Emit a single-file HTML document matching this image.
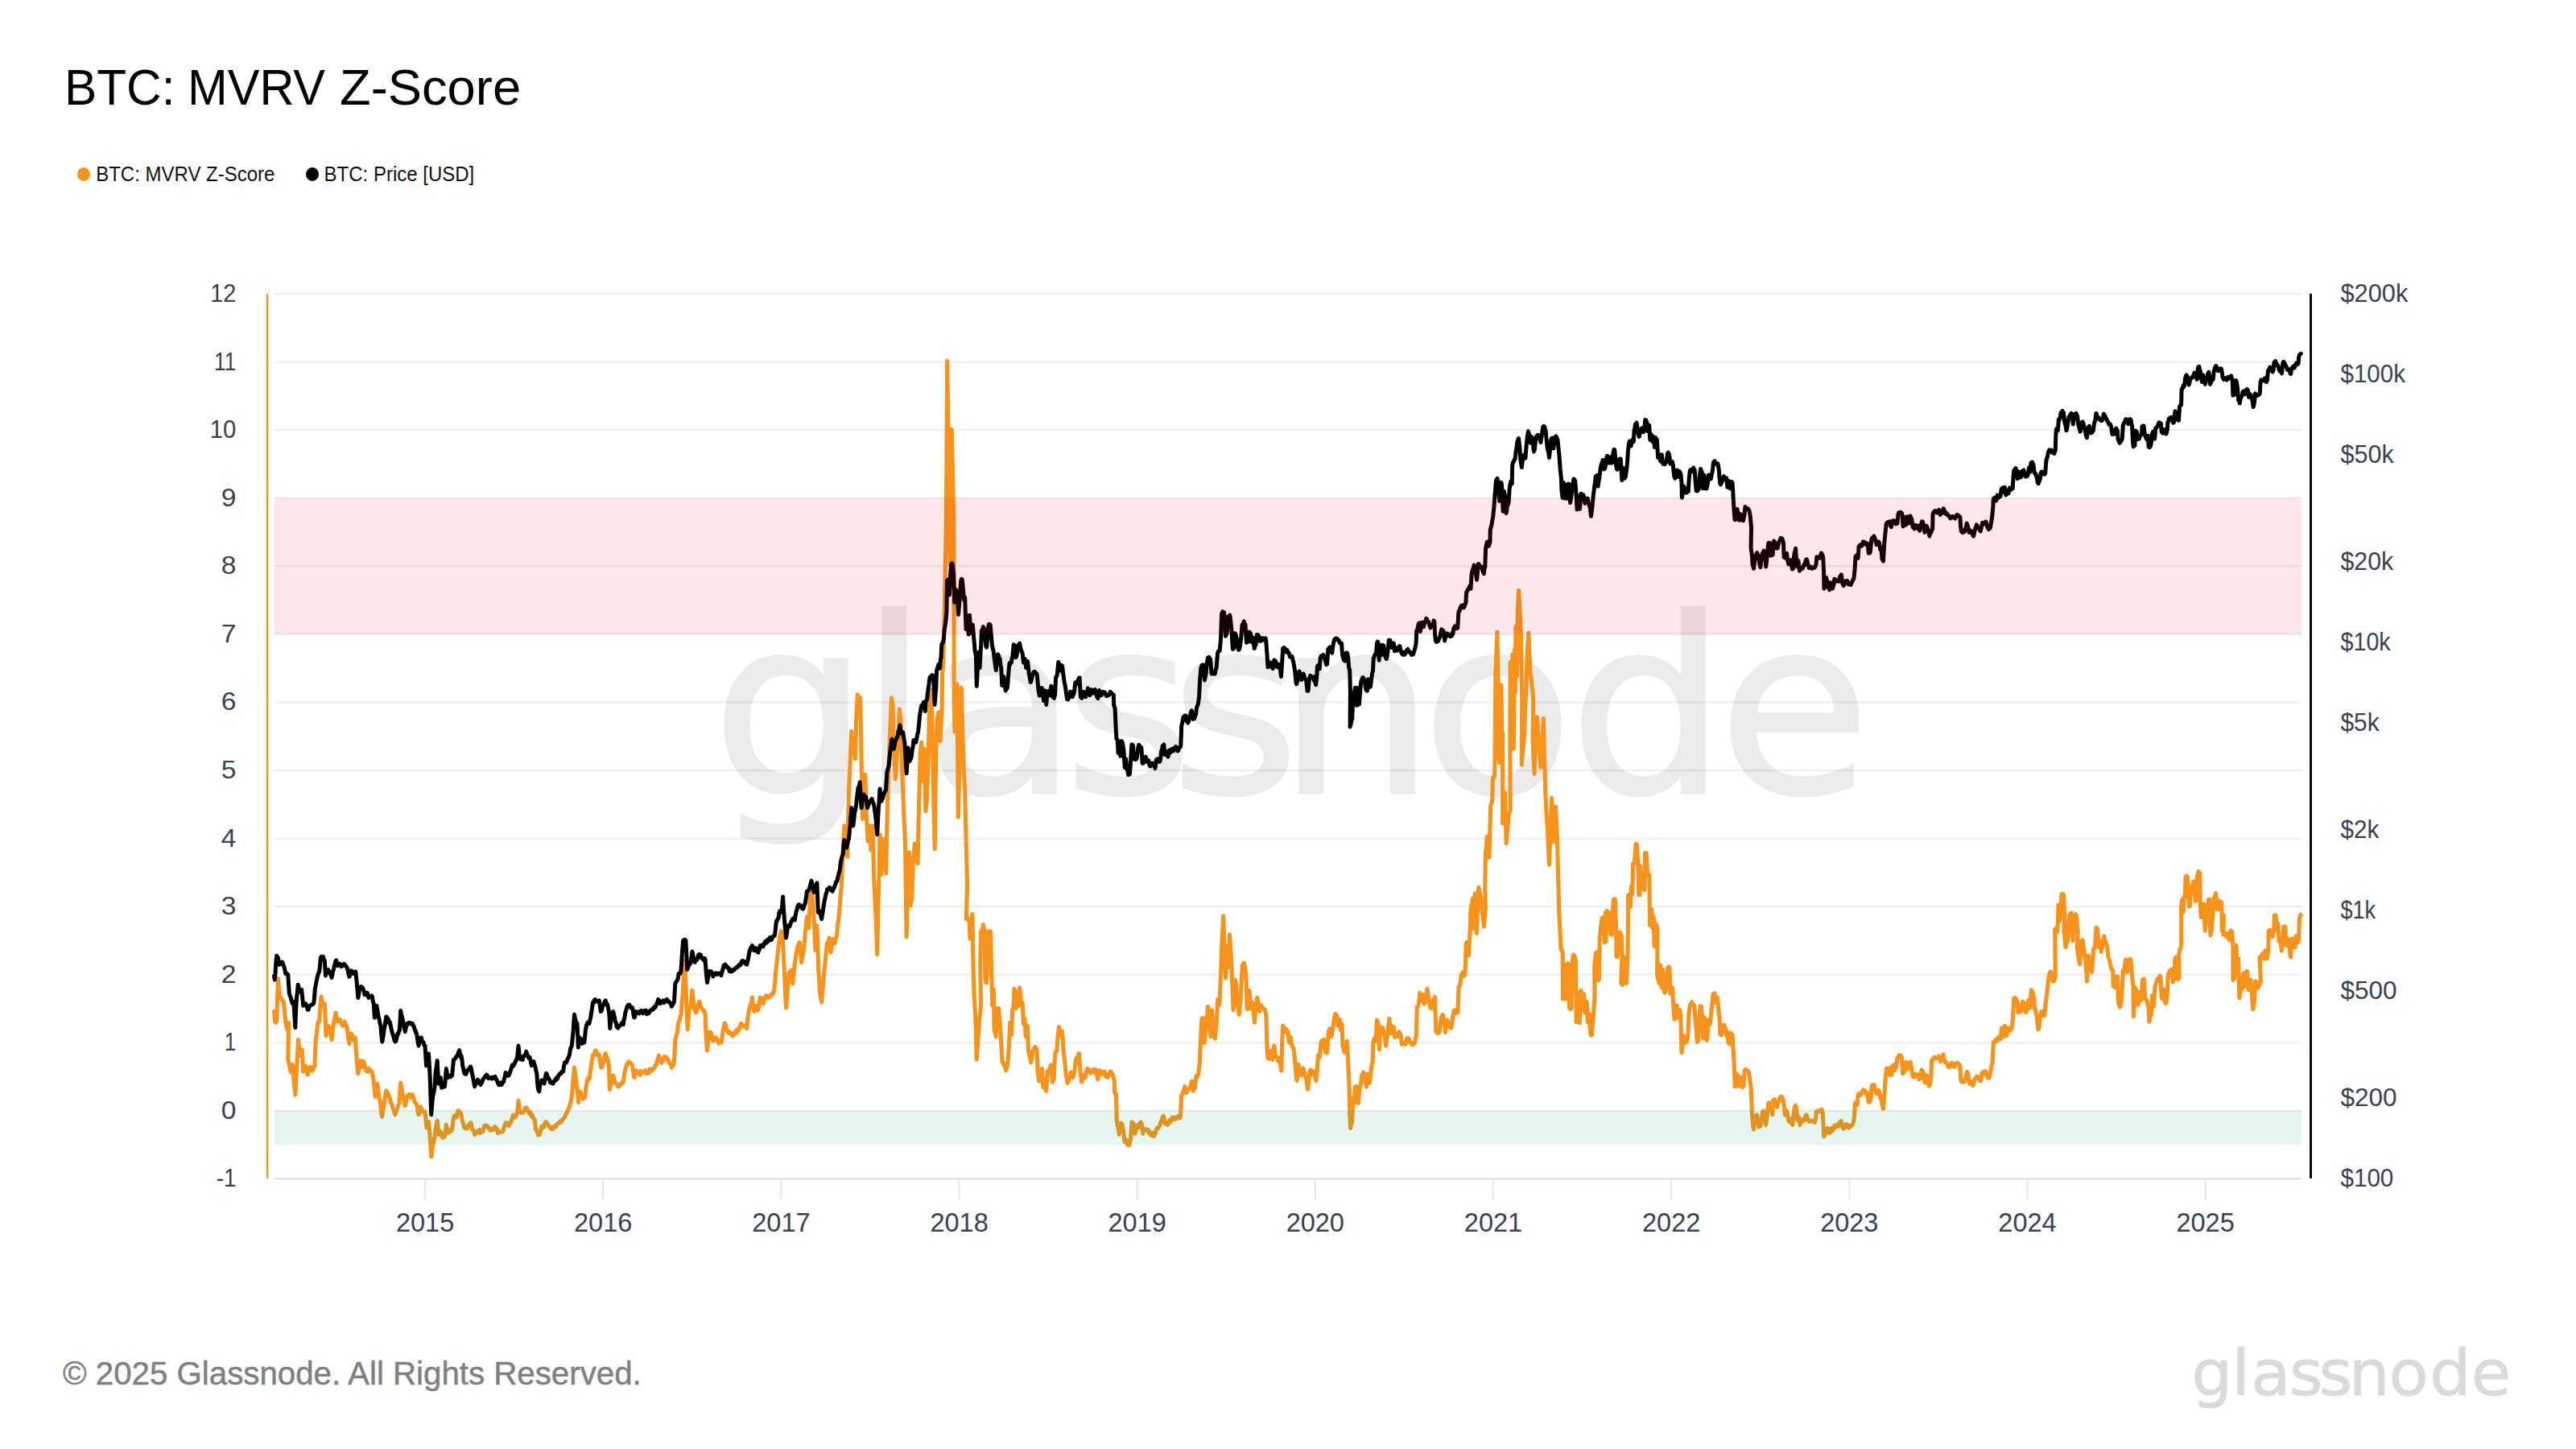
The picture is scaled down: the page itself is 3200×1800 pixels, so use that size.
<!DOCTYPE html>
<html><head><meta charset="utf-8"><title>BTC: MVRV Z-Score</title>
<style>
html,body{margin:0;padding:0;background:#fff;}
body{width:3200px;height:1800px;position:relative;overflow:hidden;font-family:"Liberation Sans",sans-serif;}
#title{position:absolute;left:80px;top:63.0px;width:700px;height:90px;font-size:62.8px;line-height:90px;color:#000;white-space:nowrap;transform-origin:0 50%;}
.leg{position:absolute;top:200.6px;transform:scaleY(1.06);transform-origin:0 50%;font-size:24px;line-height:32px;color:#111;white-space:nowrap;}
.dot{position:absolute;width:16.2px;height:17.2px;border-radius:50%;top:207.6px;}
#foot{position:absolute;left:78.0px;top:1682.7px;font-size:40px;line-height:46px;color:#808080;white-space:nowrap;transform:scale(1.0062,1);transform-origin:0 36.4px;-webkit-text-stroke:0.5px #808080;}
#logo{position:absolute;left:2722px;top:1650px;font-size:86.7px;line-height:100px;color:#dadada;white-space:nowrap;}
svg{position:absolute;left:0;top:0;}
svg text{font-family:"Liberation Sans",sans-serif;fill:#3a4150;}
#title span{position:absolute;top:0;transform-origin:0 50%;}
</style></head><body>
<div id="title"><span style="left:-0.1px;transform:scaleX(0.961)">BTC:</span> <span style="left:153.1px;transform:scaleX(0.949)">MVRV</span> <span style="left:342.4px;transform:scaleX(1.008)">Z-Score</span></div>
<div class="dot" style="left:95.8px;background:#f7931a"></div><div class="leg" style="left:119.2px">BTC: MVRV Z-Score</div>
<div class="dot" style="left:379.8px;background:#000"></div><div class="leg" style="left:402.6px">BTC: Price [USD]</div>
<svg width="3200" height="1800" viewBox="0 0 3200 1800">
<rect x="341" y="1378.6" width="2518" height="2.4" fill="#000" fill-opacity="0.062"/>
<rect x="341" y="1294.1" width="2518" height="2.4" fill="#000" fill-opacity="0.062"/>
<rect x="341" y="1209.5" width="2518" height="2.4" fill="#000" fill-opacity="0.062"/>
<rect x="341" y="1124.9" width="2518" height="2.4" fill="#000" fill-opacity="0.062"/>
<rect x="341" y="1040.4" width="2518" height="2.4" fill="#000" fill-opacity="0.062"/>
<rect x="341" y="955.8" width="2518" height="2.4" fill="#000" fill-opacity="0.062"/>
<rect x="341" y="871.2" width="2518" height="2.4" fill="#000" fill-opacity="0.062"/>
<rect x="341" y="786.6" width="2518" height="2.4" fill="#000" fill-opacity="0.062"/>
<rect x="341" y="702.1" width="2518" height="2.4" fill="#000" fill-opacity="0.062"/>
<rect x="341" y="617.5" width="2518" height="2.4" fill="#000" fill-opacity="0.062"/>
<rect x="341" y="532.9" width="2518" height="2.4" fill="#000" fill-opacity="0.062"/>
<rect x="341" y="448.4" width="2518" height="2.4" fill="#000" fill-opacity="0.062"/>
<rect x="341" y="363.8" width="2518" height="2.4" fill="#000" fill-opacity="0.062"/>
<text x="866.59 1046.56 1127.51 1295.26 1425.16 1555.54 1731.26 1910.70 2092.28" y="984.5" font-size="303" transform="scale(1.02 1)" style="font-family:'DejaVu Sans',sans-serif;fill:#000;stroke:#000;stroke-width:3;opacity:0.075">glassnode</text>
<rect x="341" y="1463.5" width="2518" height="1.8" fill="#d8d9db"/>
<rect x="527.1" y="1465.4" width="2" height="25" fill="#e6e7ea"/>
<text x="528.1" y="1530.3" text-anchor="middle" font-size="32.5">2015</text>
<rect x="748.2" y="1465.4" width="2" height="25" fill="#e6e7ea"/>
<text x="749.2" y="1530.3" text-anchor="middle" font-size="32.5">2016</text>
<rect x="969.4" y="1465.4" width="2" height="25" fill="#e6e7ea"/>
<text x="970.4" y="1530.3" text-anchor="middle" font-size="32.5">2017</text>
<rect x="1190.6" y="1465.4" width="2" height="25" fill="#e6e7ea"/>
<text x="1191.6" y="1530.3" text-anchor="middle" font-size="32.5">2018</text>
<rect x="1411.7" y="1465.4" width="2" height="25" fill="#e6e7ea"/>
<text x="1412.7" y="1530.3" text-anchor="middle" font-size="32.5">2019</text>
<rect x="1632.8" y="1465.4" width="2" height="25" fill="#e6e7ea"/>
<text x="1633.8" y="1530.3" text-anchor="middle" font-size="32.5">2020</text>
<rect x="1854.0" y="1465.4" width="2" height="25" fill="#e6e7ea"/>
<text x="1855.0" y="1530.3" text-anchor="middle" font-size="32.5">2021</text>
<rect x="2075.2" y="1465.4" width="2" height="25" fill="#e6e7ea"/>
<text x="2076.2" y="1530.3" text-anchor="middle" font-size="32.5">2022</text>
<rect x="2296.3" y="1465.4" width="2" height="25" fill="#e6e7ea"/>
<text x="2297.3" y="1530.3" text-anchor="middle" font-size="32.5">2023</text>
<rect x="2517.5" y="1465.4" width="2" height="25" fill="#e6e7ea"/>
<text x="2518.5" y="1530.3" text-anchor="middle" font-size="32.5">2024</text>
<rect x="2738.6" y="1465.4" width="2" height="25" fill="#e6e7ea"/>
<text x="2739.6" y="1530.3" text-anchor="middle" font-size="32.5">2025</text>
<rect x="330.9" y="364.8" width="2.3" height="1099.1" fill="#f7931a"/>
<rect x="2869.1" y="364.8" width="2.9" height="1099.1" fill="#000"/>
<text transform="translate(293.3 1474.4) scale(0.88 1)" text-anchor="end" font-size="31.5">-1</text>
<text transform="translate(293.5 1389.8) scale(1.065 1)" text-anchor="end" font-size="31.5">0</text>
<text transform="translate(293.2 1305.3) scale(0.83 1)" text-anchor="end" font-size="31.5">1</text>
<text transform="translate(293.5 1220.7) scale(1.065 1)" text-anchor="end" font-size="31.5">2</text>
<text transform="translate(293.5 1136.1) scale(1.065 1)" text-anchor="end" font-size="31.5">3</text>
<text transform="translate(293.5 1051.6) scale(1.065 1)" text-anchor="end" font-size="31.5">4</text>
<text transform="translate(293.5 967.0) scale(1.065 1)" text-anchor="end" font-size="31.5">5</text>
<text transform="translate(293.5 882.4) scale(1.065 1)" text-anchor="end" font-size="31.5">6</text>
<text transform="translate(293.5 797.8) scale(1.065 1)" text-anchor="end" font-size="31.5">7</text>
<text transform="translate(293.5 713.3) scale(1.065 1)" text-anchor="end" font-size="31.5">8</text>
<text transform="translate(293.5 628.7) scale(1.065 1)" text-anchor="end" font-size="31.5">9</text>
<text transform="translate(293.3 544.1) scale(0.93 1)" text-anchor="end" font-size="31.5">10</text>
<text transform="translate(293.2 459.6) scale(0.83 1)" text-anchor="end" font-size="31.5">11</text>
<text transform="translate(293.3 375.0) scale(0.914 1)" text-anchor="end" font-size="31.5">12</text>
<text transform="translate(2907.5 374.7) scale(0.977 1)" font-size="31.5">$200k</text>
<text transform="translate(2907.5 475.0) scale(0.937 1)" font-size="31.5">$100k</text>
<text transform="translate(2907.5 575.2) scale(0.97 1)" font-size="31.5">$50k</text>
<text transform="translate(2907.5 707.8) scale(0.962 1)" font-size="31.5">$20k</text>
<text transform="translate(2907.5 808.0) scale(0.91 1)" font-size="31.5">$10k</text>
<text transform="translate(2907.5 908.3) scale(0.947 1)" font-size="31.5">$5k</text>
<text transform="translate(2907.5 1040.9) scale(0.94 1)" font-size="31.5">$2k</text>
<text transform="translate(2907.5 1141.1) scale(0.86 1)" font-size="31.5">$1k</text>
<text transform="translate(2907.5 1241.4) scale(1.0 1)" font-size="31.5">$500</text>
<text transform="translate(2907.5 1373.9) scale(1.0 1)" font-size="31.5">$200</text>
<text transform="translate(2907.5 1474.2) scale(0.94 1)" font-size="31.5">$100</text>
<path d="M340.4,1254.3 L341.7,1269.2 L342.7,1270.2 L343.7,1268.0 L344.5,1243.7 L345.4,1215.8 L346.4,1227.7 L347.4,1239.4 L348.2,1239.2 L349.0,1239.6 L349.9,1241.9 L350.7,1243.1 L351.5,1243.0 L352.4,1245.6 L353.2,1251.6 L354.0,1261.6 L354.8,1269.2 L355.8,1274.3 L356.8,1279.1 L357.7,1275.5 L358.6,1270.4 L357.8,1316.4 L358.6,1318.9 L359.4,1323.9 L360.2,1327.5 L361.1,1331.3 L361.9,1326.4 L362.7,1326.2 L363.5,1322.6 L364.3,1332.3 L365.2,1344.3 L366.0,1350.8 L366.8,1359.9 L367.6,1344.2 L368.5,1328.8 L369.5,1311.8 L370.5,1291.6 L371.6,1301.7 L372.7,1311.4 L373.6,1310.1 L374.4,1306.0 L375.2,1304.0 L376.7,1331.3 L377.7,1329.1 L378.7,1327.7 L379.7,1323.9 L380.5,1328.5 L381.3,1331.5 L382.2,1335.0 L383.2,1330.3 L384.2,1329.0 L385.2,1325.1 L386.0,1326.8 L386.8,1329.3 L387.6,1330.1 L388.4,1328.8 L389.3,1328.4 L390.1,1325.3 L390.9,1323.9 L392.1,1294.0 L392.9,1286.8 L393.8,1280.0 L394.6,1271.7 L395.6,1269.0 L396.6,1269.2 L397.4,1258.3 L398.2,1247.8 L399.1,1238.1 L400.1,1244.4 L401.1,1245.5 L402.0,1249.3 L403.3,1246.8 L404.2,1267.6 L405.0,1286.6 L405.9,1283.7 L406.7,1278.8 L407.5,1275.4 L408.3,1274.6 L409.2,1279.1 L410.0,1279.1 L411.0,1284.8 L412.0,1291.6 L412.8,1285.9 L413.6,1276.6 L414.5,1271.7 L415.3,1266.6 L416.1,1264.2 L417.0,1258.0 L417.8,1263.6 L418.6,1263.8 L419.4,1269.2 L420.4,1266.6 L421.4,1267.5 L422.4,1266.7 L423.2,1269.5 L424.0,1270.6 L424.8,1272.7 L425.7,1274.2 L426.5,1271.2 L427.3,1271.6 L428.1,1269.2 L429.0,1272.7 L429.8,1272.8 L430.6,1275.4 L431.4,1278.8 L432.2,1285.0 L433.0,1292.2 L433.9,1296.5 L434.7,1290.1 L435.5,1288.1 L436.3,1284.1 L437.2,1285.3 L438.0,1288.9 L438.8,1291.6 L439.6,1290.4 L440.5,1289.9 L441.3,1289.1 L442.2,1303.4 L443.0,1313.9 L443.9,1324.4 L444.8,1333.8 L445.6,1330.1 L446.4,1322.8 L447.3,1317.6 L448.1,1319.5 L448.9,1323.1 L449.8,1325.1 L450.7,1318.3 L451.7,1318.9 L452.6,1322.1 L453.4,1325.7 L454.2,1328.8 L455.1,1328.0 L455.9,1331.1 L456.7,1331.3 L457.5,1330.2 L458.4,1327.3 L459.2,1330.1 L460.2,1330.6 L461.2,1330.4 L462.2,1332.5 L463.2,1337.5 L464.2,1343.7 L465.2,1352.8 L466.1,1362.4 L467.0,1358.6 L467.8,1351.7 L468.6,1346.2 L469.5,1352.4 L470.3,1359.1 L471.1,1364.8 L472.0,1366.8 L472.9,1373.5 L473.7,1382.0 L474.6,1387.2 L475.4,1380.8 L476.3,1377.8 L477.1,1372.3 L478.0,1365.0 L478.9,1359.4 L479.8,1354.9 L480.8,1356.0 L481.8,1360.7 L482.8,1359.9 L483.6,1363.7 L484.5,1364.9 L485.3,1368.6 L486.1,1370.7 L486.9,1372.0 L487.8,1376.0 L488.6,1378.2 L489.4,1379.6 L490.2,1383.5 L491.0,1384.7 L492.0,1380.1 L493.0,1378.5 L494.0,1376.0 L495.0,1372.4 L496.0,1371.1 L496.8,1357.1 L497.7,1345.0 L498.5,1350.4 L499.4,1354.2 L500.2,1358.6 L501.2,1364.4 L502.2,1370.1 L503.2,1373.5 L504.2,1370.1 L505.2,1363.6 L506.1,1361.2 L507.0,1363.1 L508.0,1359.4 L508.9,1361.1 L509.8,1360.7 L510.7,1363.0 L511.7,1359.9 L512.6,1359.9 L513.4,1362.3 L514.3,1365.9 L515.1,1368.6 L515.9,1369.8 L516.7,1371.1 L517.6,1372.3 L518.4,1375.5 L519.2,1382.0 L520.1,1384.7 L520.9,1382.6 L521.7,1377.8 L522.5,1374.8 L523.4,1376.8 L524.2,1379.0 L525.0,1379.8 L526.0,1381.5 L527.0,1381.1 L528.0,1381.0 L529.0,1391.8 L530.0,1400.9 L530.8,1398.0 L531.7,1394.5 L532.5,1393.4 L533.4,1402.7 L534.2,1413.3 L535.7,1436.9 L536.6,1431.4 L537.5,1423.2 L538.3,1421.2 L539.1,1416.8 L539.9,1413.3 L541.2,1403.4 L542.2,1397.0 L543.2,1392.2 L544.0,1400.6 L544.9,1408.3 L545.7,1409.7 L546.6,1408.4 L547.4,1405.8 L548.2,1407.4 L549.0,1410.8 L549.9,1413.3 L550.7,1411.0 L551.5,1411.0 L552.4,1412.0 L553.4,1404.8 L554.3,1397.1 L555.2,1402.1 L556.1,1407.1 L556.9,1407.1 L557.7,1406.2 L558.6,1403.4 L559.6,1404.4 L560.6,1405.1 L561.6,1403.4 L562.5,1395.2 L563.5,1388.4 L564.4,1386.2 L565.2,1387.4 L566.0,1386.0 L567.0,1387.9 L567.9,1383.3 L568.8,1379.8 L569.8,1379.8 L570.6,1381.3 L571.4,1384.1 L572.2,1382.1 L573.0,1384.7 L573.9,1390.1 L574.7,1393.4 L575.5,1395.1 L576.4,1400.0 L577.2,1400.9 L578.0,1401.5 L578.9,1400.4 L579.7,1399.6 L580.5,1401.8 L581.3,1398.3 L582.2,1398.4 L583.0,1396.3 L583.8,1398.3 L584.7,1394.7 L585.5,1396.0 L586.3,1402.5 L587.1,1402.1 L588.0,1404.5 L588.8,1405.7 L589.6,1409.6 L590.6,1408.3 L591.5,1407.3 L592.4,1406.1 L593.4,1404.6 L594.3,1405.0 L595.2,1407.2 L596.1,1403.4 L597.1,1407.1 L598.0,1405.1 L598.9,1404.3 L599.9,1405.7 L600.8,1402.1 L601.7,1398.6 L602.7,1399.8 L603.6,1397.8 L604.5,1398.4 L605.5,1398.5 L606.4,1401.1 L607.3,1401.7 L608.3,1402.1 L609.2,1404.3 L610.1,1402.0 L611.1,1403.4 L612.0,1403.4 L612.8,1403.6 L613.6,1402.0 L614.5,1399.6 L615.3,1400.0 L616.1,1402.8 L617.0,1402.1 L617.8,1402.6 L618.6,1407.8 L619.4,1407.1 L620.4,1407.0 L621.3,1406.3 L622.2,1406.5 L623.2,1405.8 L624.0,1405.7 L624.8,1405.6 L625.7,1402.1 L626.5,1399.4 L627.3,1396.7 L628.1,1394.7 L629.1,1396.4 L630.0,1395.4 L630.9,1395.2 L631.9,1398.4 L632.8,1397.6 L633.7,1394.2 L634.7,1394.3 L635.6,1390.9 L636.5,1388.7 L637.5,1385.3 L638.4,1388.5 L639.3,1387.2 L640.1,1386.2 L640.9,1386.8 L641.7,1384.2 L642.5,1382.2 L644.0,1367.3 L645.5,1381.0 L646.5,1381.7 L647.4,1382.4 L648.3,1381.4 L649.3,1382.2 L650.2,1381.0 L651.2,1379.5 L652.0,1376.5 L652.8,1377.7 L653.7,1375.8 L654.5,1376.4 L655.3,1378.5 L656.1,1380.7 L657.0,1382.3 L657.8,1383.2 L658.6,1381.3 L659.4,1383.2 L660.2,1387.1 L661.0,1384.9 L661.9,1387.0 L662.7,1389.3 L663.5,1390.7 L664.3,1390.7 L665.3,1401.9 L666.2,1403.8 L667.0,1405.4 L667.8,1406.8 L668.7,1410.0 L669.5,1409.6 L670.3,1409.3 L671.3,1406.2 L672.3,1401.9 L673.1,1399.1 L674.0,1400.1 L674.8,1400.6 L675.6,1400.1 L676.4,1396.7 L677.3,1394.4 L678.1,1393.6 L678.9,1394.4 L679.8,1395.7 L680.7,1396.5 L681.6,1399.0 L682.5,1399.9 L683.5,1400.6 L684.4,1402.2 L685.3,1400.2 L686.3,1402.8 L687.2,1401.9 L688.0,1400.0 L688.9,1399.0 L689.7,1398.1 L690.6,1399.8 L691.6,1397.0 L692.5,1396.1 L693.4,1395.7 L694.3,1394.4 L695.3,1393.3 L696.2,1394.9 L697.1,1391.9 L698.1,1392.8 L699.0,1391.0 L699.9,1389.4 L700.9,1388.2 L701.7,1387.9 L702.5,1384.8 L703.4,1383.2 L704.2,1382.2 L705.0,1380.4 L705.8,1378.3 L706.7,1375.9 L707.5,1375.4 L708.3,1370.8 L709.2,1368.9 L710.0,1364.2 L710.8,1358.4 L711.7,1344.7 L712.5,1336.0 L713.5,1326.1 L714.4,1334.7 L715.3,1338.5 L716.1,1346.9 L717.0,1353.4 L718.5,1369.6 L719.6,1362.1 L720.7,1355.9 L721.6,1358.4 L722.4,1362.3 L723.2,1363.4 L724.0,1364.9 L724.8,1364.5 L725.7,1363.5 L726.5,1363.4 L727.3,1355.9 L728.2,1348.4 L729.1,1345.2 L729.9,1339.8 L730.8,1339.6 L731.6,1338.6 L732.4,1339.8 L733.4,1330.9 L734.4,1323.6 L735.4,1317.2 L736.4,1311.2 L737.4,1309.5 L738.4,1310.0 L739.4,1305.0 L740.4,1305.3 L741.4,1309.7 L742.4,1311.2 L743.4,1310.4 L744.3,1309.9 L745.2,1315.7 L746.0,1322.5 L746.8,1326.1 L747.7,1326.0 L748.5,1322.6 L749.3,1321.1 L750.3,1316.3 L751.3,1311.1 L752.3,1308.7 L753.1,1311.1 L754.0,1315.3 L754.8,1316.1 L756.3,1323.6 L757.5,1353.4 L758.4,1348.7 L759.3,1344.7 L760.1,1342.7 L760.9,1339.8 L761.7,1336.0 L762.6,1339.4 L763.4,1343.2 L764.2,1344.7 L765.2,1346.2 L766.2,1347.0 L767.2,1349.7 L768.0,1347.5 L768.8,1349.7 L769.6,1347.4 L770.4,1347.2 L771.2,1346.2 L772.0,1347.0 L772.9,1344.3 L773.7,1344.7 L774.5,1342.5 L775.3,1336.5 L776.1,1331.1 L777.1,1327.1 L778.1,1323.6 L779.1,1321.1 L780.0,1322.1 L780.8,1318.8 L781.6,1319.9 L782.5,1319.7 L783.5,1321.1 L784.4,1322.0 L785.3,1322.4 L786.2,1327.8 L787.0,1333.6 L787.8,1338.5 L788.7,1335.1 L789.5,1332.6 L790.3,1329.8 L791.2,1332.4 L792.2,1332.5 L793.1,1332.0 L794.0,1333.5 L795.0,1335.5 L795.9,1330.3 L796.8,1332.7 L797.8,1332.3 L798.7,1332.5 L799.6,1332.3 L800.6,1330.6 L801.5,1329.8 L802.3,1330.6 L803.1,1333.1 L804.0,1333.5 L804.9,1332.7 L805.8,1332.9 L806.8,1328.0 L807.7,1331.1 L808.6,1330.6 L809.6,1328.2 L810.5,1329.5 L811.4,1327.3 L812.4,1327.1 L813.3,1325.8 L814.2,1323.1 L815.2,1322.4 L816.0,1320.1 L816.8,1316.3 L817.6,1314.3 L818.4,1311.2 L819.2,1313.5 L820.0,1315.0 L820.9,1318.6 L821.9,1320.4 L822.9,1317.9 L823.9,1316.1 L824.8,1312.9 L825.7,1316.1 L826.6,1312.5 L827.6,1313.7 L828.4,1314.6 L829.2,1315.4 L830.0,1316.7 L830.8,1318.6 L831.7,1320.8 L832.5,1321.9 L833.4,1322.3 L834.3,1326.1 L835.1,1324.2 L835.9,1322.8 L836.7,1322.8 L837.5,1318.6 L838.8,1291.3 L839.6,1288.3 L840.4,1284.8 L841.2,1283.9 L842.5,1271.4 L843.4,1268.4 L844.2,1266.5 L845.2,1263.6 L846.2,1259.0 L847.2,1245.4 L848.2,1234.2 L849.0,1219.6 L849.9,1207.6 L850.7,1193.2 L851.6,1213.7 L852.4,1234.2 L853.3,1256.8 L854.2,1278.9 L855.2,1265.6 L856.1,1254.0 L857.1,1251.7 L858.1,1251.6 L859.0,1240.6 L859.9,1230.4 L860.7,1237.7 L861.5,1244.9 L862.4,1252.8 L863.2,1255.0 L864.0,1256.8 L864.8,1257.8 L865.8,1255.1 L866.7,1251.6 L867.6,1246.4 L868.6,1244.1 L869.4,1245.1 L870.2,1250.1 L871.1,1251.6 L871.9,1252.8 L872.7,1254.2 L873.5,1255.3 L874.4,1255.0 L875.2,1257.5 L876.0,1259.0 L877.3,1288.8 L878.5,1305.0 L879.5,1293.6 L880.5,1283.9 L881.3,1282.3 L882.2,1282.2 L883.0,1282.6 L883.8,1284.0 L884.6,1289.3 L885.5,1292.5 L886.5,1292.8 L887.5,1289.1 L888.4,1288.8 L889.3,1290.2 L890.1,1289.9 L890.9,1292.5 L891.8,1293.8 L892.6,1295.8 L893.4,1293.8 L894.2,1292.6 L895.1,1294.3 L895.9,1295.0 L896.7,1291.5 L897.6,1284.7 L898.4,1278.9 L899.2,1276.5 L900.0,1271.3 L900.9,1271.4 L901.7,1274.1 L902.5,1278.4 L903.4,1280.1 L904.3,1282.9 L905.2,1282.8 L906.1,1282.2 L907.1,1283.9 L907.9,1284.0 L908.7,1283.5 L909.6,1286.8 L910.5,1284.4 L911.4,1286.2 L912.4,1283.5 L913.3,1282.6 L914.2,1280.2 L915.2,1283.1 L916.1,1278.6 L917.0,1280.1 L918.0,1279.6 L918.9,1275.4 L919.8,1274.0 L920.7,1271.4 L921.7,1272.9 L922.6,1273.0 L923.5,1274.9 L924.5,1273.9 L925.3,1274.9 L926.1,1275.4 L926.9,1275.8 L927.7,1277.6 L928.6,1267.7 L929.4,1261.5 L930.3,1255.6 L931.2,1251.6 L932.0,1249.7 L932.8,1246.4 L933.6,1244.0 L934.4,1239.1 L935.2,1248.5 L936.1,1251.7 L936.9,1256.5 L937.7,1254.7 L938.6,1249.8 L939.4,1249.1 L940.2,1250.4 L941.0,1255.2 L941.9,1254.0 L942.7,1249.8 L943.5,1243.9 L944.3,1239.1 L945.3,1241.4 L946.2,1240.4 L947.1,1243.6 L948.1,1246.6 L949.0,1242.4 L949.9,1238.8 L950.9,1240.1 L951.8,1236.6 L952.7,1238.5 L953.7,1237.7 L954.6,1239.0 L955.5,1239.1 L956.5,1236.6 L957.4,1237.2 L958.3,1236.4 L959.3,1234.2 L959.4,1234.1 L960.5,1234.0 L961.6,1230.0 L962.7,1219.6 L963.8,1205.1 L964.9,1196.1 L966.0,1185.8 L967.1,1176.0 L968.2,1166.5 L969.3,1160.6 L970.4,1156.8 L971.5,1162.2 L972.6,1169.2 L973.7,1193.5 L974.8,1216.2 L975.7,1234.8 L976.5,1252.0 L977.5,1239.6 L978.4,1227.2 L979.4,1219.7 L980.4,1207.9 L981.5,1207.3 L982.6,1205.1 L983.7,1213.4 L984.8,1221.7 L985.9,1210.4 L987.0,1199.6 L988.1,1192.1 L989.2,1184.4 L990.3,1178.3 L991.4,1174.7 L992.4,1171.4 L993.3,1170.6 L994.5,1183.5 L995.6,1195.5 L996.5,1189.6 L997.4,1185.0 L998.3,1180.3 L999.3,1171.5 L1000.2,1159.6 L1001.4,1149.0 L1002.5,1138.9 L1003.6,1147.5 L1004.7,1152.7 L1005.6,1132.6 L1006.6,1112.6 L1007.6,1109.8 L1008.5,1103.0 L1009.6,1120.1 L1010.7,1136.1 L1011.8,1155.9 L1012.9,1180.3 L1013.9,1166.7 L1014.9,1149.9 L1015.8,1177.2 L1016.8,1205.1 L1017.6,1216.4 L1018.5,1232.7 L1019.6,1239.1 L1020.7,1245.1 L1021.8,1230.9 L1022.9,1216.2 L1024.0,1204.1 L1025.1,1195.5 L1026.2,1182.9 L1027.3,1172.0 L1028.2,1170.4 L1029.1,1169.2 L1030.1,1165.1 L1031.0,1175.5 L1032.0,1183.0 L1033.1,1176.3 L1034.2,1166.5 L1035.1,1169.8 L1036.0,1166.9 L1037.0,1172.0 L1037.9,1167.4 L1038.8,1164.9 L1039.7,1160.9 L1040.6,1148.2 L1041.6,1143.5 L1042.5,1133.3 L1043.4,1123.4 L1044.3,1110.2 L1045.3,1100.2 L1046.2,1077.6 L1047.2,1056.0 L1048.0,1039.6 L1048.8,1025.7 L1049.8,1031.2 L1050.8,1036.7 L1051.7,1050.4 L1052.7,1064.3 L1053.5,1025.6 L1054.4,987.0 L1055.2,967.7 L1056.0,951.1 L1056.8,930.2 L1057.7,908.3 L1058.5,922.4 L1059.3,937.3 L1060.2,933.0 L1061.0,926.3 L1061.8,935.0 L1062.6,942.8 L1063.7,893.1 L1064.6,876.0 L1065.4,862.8 L1066.2,865.0 L1067.1,871.0 L1067.9,869.1 L1068.7,866.9 L1070.1,945.6 L1071.5,1017.4 L1072.3,1000.2 L1073.1,984.2 L1074.0,973.8 L1074.8,962.2 L1075.6,989.4 L1076.4,1014.6 L1077.3,1029.8 L1078.1,1045.0 L1078.9,1033.1 L1079.8,1025.7 L1080.9,1039.3 L1082.0,1056.0 L1082.9,1041.6 L1083.9,1025.7 L1084.9,1058.8 L1085.8,1094.7 L1086.9,1116.8 L1088.0,1136.1 L1088.9,1160.8 L1089.7,1185.8 L1090.5,1147.8 L1091.4,1108.5 L1092.2,1071.4 L1093.0,1036.7 L1094.0,1061.4 L1094.9,1086.4 L1095.9,1060.5 L1096.9,1042.2 L1098.0,1047.5 L1099.1,1053.3 L1099.9,1069.9 L1100.7,1085.0 L1101.6,1043.1 L1102.4,1003.6 L1103.2,977.6 L1104.1,953.9 L1104.9,930.3 L1105.7,906.9 L1106.5,887.0 L1107.4,866.9 L1108.2,870.7 L1109.0,876.6 L1109.9,907.8 L1110.7,937.3 L1111.5,950.4 L1112.3,967.7 L1113.2,955.3 L1114.0,940.1 L1114.8,932.7 L1115.7,929.0 L1116.5,903.8 L1117.3,880.7 L1118.1,888.7 L1119.0,893.1 L1119.8,923.6 L1120.6,956.6 L1121.6,979.3 L1122.6,1006.3 L1123.5,1027.1 L1124.5,1047.7 L1125.3,1104.5 L1126.1,1163.7 L1127.0,1125.0 L1127.8,1089.2 L1128.6,1073.1 L1129.5,1058.8 L1130.3,1090.9 L1131.1,1125.0 L1131.9,1119.6 L1132.8,1116.8 L1133.6,1092.0 L1134.4,1069.8 L1135.4,1060.9 L1136.4,1047.7 L1137.3,1052.4 L1138.3,1058.8 L1139.1,1067.0 L1140.0,1072.6 L1140.8,1033.5 L1141.6,998.0 L1142.4,968.4 L1143.3,937.3 L1144.6,922.1 L1145.6,944.7 L1146.6,970.4 L1147.4,949.8 L1148.2,930.4 L1149.1,969.9 L1149.9,1007.7 L1150.7,999.4 L1151.5,992.5 L1152.4,965.1 L1153.2,942.8 L1154.3,887.6 L1155.4,871.6 L1156.5,857.0 L1157.8,885.0 L1158.5,927.3 L1159.3,970.0 L1160.2,1013.0 L1161.2,1054.6 L1162.6,942.8 L1163.4,916.6 L1164.2,893.0 L1165.1,888.5 L1165.9,884.8 L1167.0,902.8 L1168.1,920.7 L1169.0,902.0 L1170.0,887.6 L1170.6,837.3 L1171.7,824.6 L1172.5,791.9 L1173.3,759.5 L1174.3,703.7 L1175.4,650.0 L1176.7,448.3 L1177.6,512.3 L1178.5,575.0 L1179.3,638.4 L1180.2,702.0 L1181.2,614.5 L1182.2,533.2 L1183.1,572.0 L1183.9,610.6 L1184.8,650.0 L1185.2,870.0 L1186.0,909.0 L1186.8,893.0 L1187.5,878.8 L1188.2,863.1 L1189.0,850.0 L1190.3,1015.0 L1191.1,983.0 L1191.9,951.5 L1192.7,919.2 L1193.5,885.5 L1194.3,854.0 L1195.1,886.7 L1195.9,915.0 L1196.7,940.1 L1197.5,963.0 L1198.6,979.0 L1200.0,1040.0 L1200.8,1068.8 L1201.6,1100.0 L1200.3,1141.4 L1201.0,1141.5 L1201.8,1139.9 L1202.5,1142.2 L1203.3,1143.6 L1204.1,1143.0 L1204.9,1166.2 L1205.9,1157.7 L1206.9,1145.3 L1207.9,1135.6 L1209.0,1199.3 L1210.2,1237.4 L1211.3,1255.8 L1212.4,1278.8 L1213.2,1316.1 L1214.2,1301.4 L1215.2,1287.1 L1216.5,1267.2 L1217.5,1259.9 L1218.5,1249.0 L1217.8,1199.3 L1218.5,1157.9 L1219.5,1155.1 L1220.5,1153.5 L1221.5,1148.8 L1222.3,1152.8 L1223.1,1154.6 L1223.9,1215.9 L1224.8,1220.4 L1225.6,1220.9 L1226.7,1190.2 L1227.7,1157.9 L1228.7,1156.8 L1229.6,1158.0 L1230.6,1157.1 L1231.4,1199.3 L1232.7,1249.0 L1233.5,1242.4 L1234.4,1229.1 L1235.0,1278.8 L1236.1,1282.7 L1237.2,1287.9 L1238.0,1267.8 L1238.8,1252.5 L1239.7,1255.2 L1240.6,1252.5 L1241.4,1261.9 L1242.1,1270.2 L1242.9,1282.6 L1243.7,1296.7 L1245.0,1318.8 L1246.1,1320.2 L1247.2,1323.2 L1248.3,1324.5 L1249.4,1329.8 L1250.5,1327.4 L1251.6,1323.2 L1252.4,1313.4 L1253.2,1303.3 L1254.0,1285.9 L1254.7,1270.2 L1255.6,1277.4 L1256.5,1285.6 L1257.6,1254.7 L1258.4,1252.0 L1259.2,1250.3 L1260.0,1228.2 L1261.0,1241.7 L1262.0,1252.5 L1262.8,1242.3 L1263.6,1232.6 L1264.9,1250.3 L1265.8,1240.5 L1266.7,1227.1 L1267.7,1236.5 L1268.6,1248.1 L1269.4,1246.2 L1270.2,1245.9 L1271.5,1272.4 L1272.3,1268.4 L1273.1,1265.8 L1274.2,1287.8 L1275.3,1280.5 L1276.4,1274.6 L1277.5,1305.5 L1278.6,1309.8 L1279.7,1314.3 L1280.8,1319.9 L1281.9,1314.0 L1283.0,1305.5 L1284.1,1304.9 L1285.2,1301.1 L1286.1,1300.4 L1287.0,1304.2 L1287.9,1303.3 L1289.2,1332.0 L1290.0,1337.7 L1290.7,1343.1 L1291.8,1338.5 L1292.9,1329.8 L1293.7,1328.5 L1294.5,1327.6 L1295.8,1350.8 L1296.6,1344.7 L1297.4,1340.8 L1298.5,1349.1 L1299.6,1355.2 L1300.3,1344.4 L1301.1,1332.0 L1302.2,1329.8 L1303.3,1328.7 L1304.4,1326.0 L1305.5,1323.2 L1306.4,1333.8 L1307.3,1344.2 L1308.2,1342.9 L1309.1,1340.8 L1309.8,1323.2 L1310.6,1309.9 L1311.7,1306.2 L1312.8,1305.5 L1313.6,1294.5 L1314.4,1283.4 L1315.7,1275.7 L1316.5,1282.1 L1317.2,1287.8 L1318.3,1283.9 L1319.4,1281.2 L1320.2,1290.0 L1321.0,1303.3 L1321.9,1312.8 L1322.8,1318.8 L1323.6,1327.2 L1324.5,1336.4 L1325.3,1339.5 L1326.1,1345.3 L1327.2,1344.0 L1328.3,1338.6 L1329.4,1336.8 L1330.5,1332.0 L1331.6,1336.7 L1332.7,1338.6 L1333.8,1335.3 L1334.9,1329.8 L1335.7,1323.9 L1336.4,1316.6 L1337.3,1314.2 L1338.2,1314.3 L1339.3,1311.6 L1340.4,1308.8 L1341.3,1320.9 L1342.2,1332.0 L1343.0,1338.9 L1343.7,1344.2 L1344.8,1340.4 L1345.9,1335.3 L1347.0,1335.7 L1348.2,1338.6 L1349.3,1332.3 L1350.4,1327.6 L1351.5,1327.7 L1352.6,1328.7 L1353.7,1330.7 L1354.8,1333.1 L1355.9,1330.3 L1357.0,1329.8 L1358.1,1328.5 L1359.2,1332.0 L1360.3,1328.8 L1361.4,1328.7 L1362.5,1335.2 L1363.6,1340.8 L1364.7,1335.3 L1365.8,1329.8 L1366.9,1332.8 L1368.0,1334.2 L1368.9,1331.2 L1369.7,1332.6 L1370.5,1333.7 L1371.3,1332.0 L1372.2,1331.3 L1373.1,1334.3 L1374.0,1337.5 L1374.9,1335.0 L1375.9,1338.4 L1376.9,1336.4 L1378.0,1333.7 L1379.1,1330.9 L1379.9,1331.3 L1380.7,1333.3 L1381.6,1334.1 L1382.4,1335.3 L1383.3,1339.3 L1384.2,1340.8 L1384.6,1356.3 L1385.5,1358.9 L1386.4,1358.5 L1387.2,1391.6 L1388.1,1397.2 L1389.0,1400.5 L1390.3,1409.3 L1391.3,1402.6 L1392.3,1395.0 L1393.1,1396.5 L1393.9,1396.1 L1394.8,1401.5 L1395.6,1404.9 L1397.0,1418.1 L1398.0,1418.6 L1398.9,1415.9 L1399.7,1416.3 L1400.5,1421.5 L1401.6,1422.5 L1402.7,1422.6 L1403.6,1419.4 L1404.5,1415.9 L1405.2,1405.1 L1406.0,1393.9 L1406.8,1394.3 L1407.6,1395.2 L1408.4,1396.1 L1409.2,1402.8 L1410.0,1408.2 L1411.1,1403.5 L1412.2,1398.3 L1413.3,1399.5 L1414.4,1400.5 L1415.2,1396.3 L1416.0,1395.0 L1417.1,1393.9 L1418.2,1396.1 L1419.0,1401.2 L1419.9,1408.2 L1421.0,1403.7 L1422.1,1403.8 L1423.2,1402.6 L1424.3,1402.7 L1425.2,1403.1 L1426.1,1403.3 L1427.0,1407.1 L1428.0,1405.7 L1428.9,1408.7 L1429.9,1410.4 L1431.0,1408.0 L1432.1,1407.1 L1433.2,1411.6 L1434.3,1410.4 L1435.4,1407.7 L1436.5,1402.7 L1437.6,1401.1 L1438.7,1401.6 L1439.8,1399.3 L1440.9,1398.3 L1442.0,1393.6 L1443.1,1391.6 L1444.2,1387.9 L1445.3,1386.1 L1446.4,1390.6 L1447.5,1396.1 L1448.5,1396.4 L1449.4,1396.0 L1450.4,1397.2 L1451.5,1395.5 L1452.6,1391.6 L1453.5,1392.1 L1454.4,1393.5 L1455.3,1390.5 L1456.1,1388.1 L1457.0,1389.9 L1457.9,1388.3 L1458.8,1388.9 L1459.7,1390.5 L1460.6,1388.1 L1461.4,1389.4 L1462.3,1389.4 L1463.3,1386.6 L1464.2,1387.9 L1465.2,1387.2 L1466.0,1388.6 L1466.7,1382.8 L1467.4,1360.7 L1468.5,1360.2 L1469.6,1356.3 L1470.7,1355.4 L1471.8,1349.7 L1472.9,1355.1 L1474.0,1357.4 L1475.1,1353.7 L1476.2,1354.1 L1477.3,1352.4 L1478.5,1349.7 L1479.6,1346.6 L1480.7,1343.1 L1481.4,1349.7 L1482.2,1355.2 L1483.3,1352.2 L1484.4,1351.9 L1485.3,1341.6 L1486.2,1336.4 L1487.3,1338.1 L1488.4,1334.2 L1489.3,1329.1 L1490.2,1321.0 L1490.9,1304.8 L1491.7,1287.8 L1492.8,1265.8 L1493.7,1264.6 L1494.6,1264.7 L1495.3,1280.4 L1496.1,1295.6 L1496.9,1287.9 L1497.7,1283.4 L1499.0,1265.8 L1499.8,1259.3 L1500.5,1250.3 L1501.3,1252.7 L1502.1,1254.7 L1503.0,1271.1 L1503.9,1287.8 L1504.7,1270.7 L1505.6,1254.7 L1506.4,1269.0 L1507.2,1283.4 L1508.3,1286.9 L1509.4,1290.1 L1510.1,1281.8 L1510.9,1274.6 L1511.8,1259.3 L1512.7,1241.5 L1513.8,1245.1 L1514.9,1248.1 L1515.8,1228.1 L1516.7,1208.3 L1517.4,1185.1 L1518.2,1164.2 L1519.0,1152.5 L1519.8,1137.7 L1521.1,1184.0 L1521.9,1201.2 L1522.6,1215.0 L1523.4,1196.0 L1524.2,1175.2 L1525.1,1186.1 L1525.9,1201.7 L1526.7,1180.8 L1527.5,1160.9 L1528.4,1174.8 L1529.2,1186.3 L1530.0,1205.1 L1530.8,1223.8 L1532.1,1254.7 L1532.9,1237.6 L1533.7,1217.2 L1534.4,1217.7 L1535.2,1219.4 L1536.1,1232.6 L1537.0,1243.7 L1538.1,1252.6 L1539.2,1260.2 L1540.1,1248.8 L1541.0,1243.7 L1542.1,1221.1 L1543.2,1199.5 L1544.3,1197.5 L1545.4,1196.2 L1546.5,1201.5 L1547.6,1208.3 L1548.4,1229.3 L1549.1,1252.5 L1549.9,1253.7 L1550.6,1250.8 L1552.0,1230.5 L1552.8,1241.5 L1553.5,1252.8 L1554.5,1249.9 L1555.5,1245.0 L1556.2,1249.1 L1557.0,1256.6 L1558.4,1270.1 L1559.3,1258.7 L1560.3,1252.8 L1561.6,1239.2 L1562.4,1242.5 L1563.2,1247.0 L1564.0,1252.3 L1564.7,1256.6 L1565.7,1251.8 L1566.7,1248.9 L1567.4,1250.9 L1568.2,1252.5 L1569.0,1252.8 L1569.8,1252.8 L1570.5,1254.0 L1571.3,1254.7 L1572.1,1257.6 L1572.9,1262.4 L1573.8,1295.3 L1574.8,1313.6 L1575.7,1314.7 L1576.7,1315.3 L1577.7,1312.7 L1578.6,1309.4 L1579.6,1304.9 L1581.0,1316.5 L1581.9,1307.2 L1582.9,1299.1 L1583.7,1305.0 L1584.4,1312.7 L1585.4,1312.3 L1586.4,1312.7 L1587.3,1316.7 L1588.3,1318.5 L1589.1,1315.5 L1589.9,1314.6 L1590.8,1324.2 L1591.8,1330.0 L1592.6,1295.3 L1593.7,1274.0 L1594.7,1276.3 L1595.7,1281.7 L1596.4,1280.8 L1597.2,1281.5 L1598.0,1278.8 L1598.9,1282.6 L1599.9,1281.7 L1600.7,1288.0 L1601.4,1295.3 L1602.4,1292.9 L1603.4,1288.5 L1604.2,1296.0 L1604.9,1298.4 L1605.7,1301.1 L1606.7,1301.1 L1607.6,1306.9 L1608.4,1315.9 L1609.2,1324.3 L1610.1,1336.5 L1611.1,1342.6 L1612.1,1331.0 L1613.0,1322.3 L1614.0,1329.8 L1615.0,1334.9 L1615.9,1332.6 L1616.9,1335.8 L1617.9,1333.6 L1618.8,1327.1 L1619.8,1329.4 L1620.8,1333.9 L1621.7,1337.9 L1622.7,1339.7 L1623.7,1347.7 L1624.6,1353.2 L1626.0,1340.7 L1627.0,1331.3 L1627.9,1329.1 L1628.9,1330.1 L1629.9,1334.9 L1630.7,1334.3 L1631.5,1331.0 L1632.4,1332.0 L1633.1,1335.5 L1633.9,1337.8 L1634.7,1342.6 L1635.5,1337.1 L1636.2,1328.1 L1637.6,1310.7 L1638.6,1311.0 L1639.5,1312.7 L1640.9,1295.3 L1641.8,1293.1 L1642.8,1293.3 L1643.8,1293.2 L1644.7,1291.4 L1645.5,1300.7 L1646.3,1306.9 L1647.1,1307.0 L1647.8,1307.9 L1648.6,1307.8 L1649.4,1296.4 L1650.1,1283.7 L1650.9,1280.1 L1651.7,1277.9 L1652.5,1279.6 L1653.2,1285.0 L1654.0,1287.5 L1654.8,1282.7 L1655.6,1278.8 L1656.9,1269.2 L1657.9,1262.6 L1658.8,1259.5 L1659.8,1261.6 L1660.8,1261.4 L1662.1,1274.0 L1663.1,1270.7 L1664.1,1266.3 L1664.8,1273.2 L1665.6,1279.8 L1666.4,1275.0 L1667.1,1272.1 L1667.9,1299.1 L1668.9,1302.7 L1669.9,1306.9 L1670.6,1301.9 L1671.4,1295.3 L1672.4,1294.9 L1673.3,1293.3 L1674.1,1307.7 L1674.9,1324.3 L1676.2,1353.2 L1676.8,1384.2 L1677.6,1401.5 L1678.6,1396.5 L1679.5,1393.8 L1680.7,1364.8 L1682.0,1370.6 L1683.4,1350.3 L1684.3,1350.3 L1685.3,1349.4 L1686.3,1360.2 L1687.2,1370.6 L1688.0,1363.0 L1688.8,1353.2 L1689.6,1349.3 L1690.3,1348.4 L1691.7,1335.8 L1692.7,1335.1 L1693.6,1332.0 L1694.6,1337.2 L1695.6,1337.8 L1696.5,1345.3 L1697.5,1350.3 L1698.8,1333.9 L1699.6,1339.9 L1700.4,1345.5 L1701.2,1345.2 L1701.9,1342.6 L1703.3,1328.1 L1704.3,1321.6 L1705.2,1318.5 L1705.8,1295.3 L1706.8,1291.8 L1707.7,1289.5 L1709.1,1293.3 L1710.4,1267.2 L1711.2,1271.4 L1712.0,1270.1 L1712.8,1284.9 L1713.5,1304.0 L1714.9,1275.9 L1716.2,1283.7 L1717.0,1278.8 L1717.8,1276.9 L1718.7,1282.3 L1719.7,1285.6 L1720.7,1291.5 L1721.6,1299.1 L1722.6,1290.7 L1723.6,1283.7 L1724.3,1276.1 L1725.1,1273.6 L1725.9,1265.3 L1726.7,1273.7 L1727.4,1283.7 L1728.2,1280.4 L1729.0,1277.9 L1729.8,1274.9 L1730.5,1277.6 L1731.3,1275.9 L1732.3,1288.5 L1733.2,1286.1 L1734.2,1283.7 L1735.2,1286.3 L1736.1,1287.5 L1737.1,1286.7 L1738.1,1281.7 L1739.0,1283.9 L1740.0,1285.6 L1741.4,1297.2 L1742.2,1295.0 L1743.0,1294.6 L1743.9,1295.3 L1744.8,1296.3 L1745.8,1297.2 L1746.6,1296.3 L1747.5,1290.5 L1748.3,1289.5 L1749.1,1289.8 L1749.9,1290.6 L1750.6,1291.4 L1751.6,1294.7 L1752.6,1296.2 L1753.3,1295.4 L1754.1,1297.3 L1754.9,1297.2 L1755.7,1297.6 L1756.6,1295.9 L1757.4,1295.3 L1758.4,1290.3 L1759.3,1285.6 L1760.3,1250.8 L1761.3,1250.2 L1762.2,1247.9 L1763.0,1241.4 L1763.8,1233.4 L1764.7,1239.9 L1765.7,1243.1 L1766.7,1237.8 L1767.6,1235.4 L1769.0,1247.0 L1770.0,1246.6 L1770.9,1243.1 L1771.9,1235.5 L1772.9,1228.6 L1773.8,1233.4 L1774.8,1241.2 L1775.7,1245.8 L1776.7,1251.8 L1777.7,1250.7 L1778.6,1252.8 L1779.6,1246.7 L1780.6,1241.2 L1781.5,1241.1 L1782.5,1238.3 L1783.9,1281.7 L1784.8,1279.8 L1785.8,1283.7 L1786.6,1281.2 L1787.5,1282.7 L1788.3,1280.8 L1789.3,1272.2 L1790.2,1264.3 L1791.1,1264.4 L1791.9,1260.7 L1792.8,1261.4 L1794.1,1270.1 L1795.5,1282.7 L1796.2,1277.3 L1797.0,1272.1 L1798.0,1267.2 L1798.9,1269.2 L1799.9,1271.5 L1800.9,1275.9 L1801.6,1276.6 L1802.4,1276.9 L1803.2,1275.0 L1804.0,1270.8 L1804.7,1262.4 L1805.7,1258.5 L1806.7,1254.7 L1807.4,1254.8 L1808.2,1256.8 L1809.0,1258.6 L1810.0,1255.6 L1810.9,1257.6 L1812.1,1225.7 L1813.0,1225.5 L1814.0,1221.8 L1815.4,1210.2 L1816.2,1211.1 L1817.0,1207.8 L1817.9,1208.3 L1818.8,1212.1 L1819.8,1211.2 L1820.6,1193.8 L1821.2,1172.6 L1822.0,1170.5 L1822.8,1172.6 L1823.7,1171.6 L1824.4,1187.1 L1825.2,1172.5 L1826.0,1160.0 L1826.8,1132.9 L1827.7,1125.1 L1828.6,1122.3 L1829.5,1116.3 L1830.6,1153.6 L1831.4,1130.1 L1832.3,1109.7 L1833.3,1136.1 L1834.4,1159.4 L1835.2,1139.2 L1836.0,1121.5 L1836.8,1102.3 L1837.7,1105.5 L1838.5,1110.1 L1839.4,1113.8 L1840.2,1120.4 L1841.0,1129.8 L1841.8,1137.0 L1842.6,1143.7 L1843.4,1151.1 L1844.5,1138.9 L1845.5,1127.1 L1844.7,1105.6 L1845.5,1059.2 L1846.3,1051.8 L1847.2,1039.3 L1848.1,1047.0 L1849.1,1055.9 L1850.0,1065.0 L1850.8,1034.2 L1851.7,1001.3 L1852.8,997.9 L1853.8,994.6 L1854.3,968.1 L1855.1,964.9 L1855.8,965.7 L1856.6,964.8 L1857.1,940.0 L1857.9,835.9 L1858.9,810.2 L1859.9,785.4 L1860.7,831.4 L1861.5,880.0 L1862.4,947.4 L1863.2,915.5 L1864.1,881.5 L1864.9,850.8 L1865.9,918.0 L1866.6,910.0 L1866.7,1022.8 L1867.6,1009.8 L1868.6,995.9 L1869.5,984.7 L1870.3,1018.2 L1871.2,1047.6 L1872.0,1038.1 L1872.7,1030.0 L1873.5,1020.7 L1874.2,1011.2 L1875.2,1009.6 L1876.2,1006.2 L1875.8,918.7 L1876.2,822.6 L1877.6,900.0 L1878.9,813.0 L1880.3,930.0 L1881.6,806.0 L1882.3,860.0 L1883.0,778.0 L1884.4,840.0 L1885.4,760.0 L1886.6,733.2 L1887.5,750.7 L1888.5,769.5 L1889.4,786.2 L1890.2,835.9 L1890.7,875.6 L1890.2,950.1 L1891.0,941.6 L1891.8,929.6 L1892.7,924.5 L1893.5,915.4 L1894.3,890.5 L1895.2,869.0 L1896.1,845.4 L1896.9,819.3 L1897.8,803.0 L1898.8,786.2 L1899.9,810.6 L1901.0,835.9 L1902.0,840.9 L1903.0,852.5 L1903.8,858.0 L1904.6,869.0 L1904.0,918.7 L1905.0,938.6 L1906.0,961.5 L1906.8,943.3 L1907.7,924.2 L1908.5,910.8 L1909.3,890.5 L1910.1,901.5 L1910.8,911.3 L1911.6,920.6 L1912.4,931.9 L1913.1,942.4 L1913.9,953.2 L1914.8,937.4 L1915.7,922.6 L1916.6,908.5 L1917.5,892.2 L1918.4,940.0 L1919.2,962.6 L1920.0,989.7 L1920.8,1004.3 L1921.7,1019.8 L1922.5,1032.7 L1923.5,1051.6 L1924.5,1074.1 L1925.2,1053.2 L1926.0,1032.2 L1926.8,1010.5 L1927.5,991.3 L1928.3,1010.8 L1929.2,1027.3 L1930.0,1046.0 L1930.8,1032.9 L1931.7,1017.3 L1932.5,1002.1 L1933.5,1020.3 L1934.4,1039.3 L1935.8,1095.6 L1936.6,1127.1 L1937.4,1145.1 L1938.3,1161.8 L1939.1,1179.9 L1940.1,1179.6 L1941.2,1183.6 L1941.5,1241.0 L1942.4,1221.3 L1943.3,1198.0 L1944.2,1220.0 L1945.1,1241.0 L1946.0,1221.9 L1946.9,1199.8 L1947.8,1196.5 L1948.7,1198.0 L1949.6,1251.8 L1950.4,1253.5 L1951.2,1253.5 L1952.0,1252.7 L1952.8,1220.8 L1953.7,1189.0 L1954.8,1185.8 L1955.9,1188.1 L1957.3,1192.6 L1958.1,1269.8 L1958.8,1257.6 L1959.6,1244.4 L1960.4,1233.0 L1961.3,1251.6 L1962.2,1270.7 L1963.1,1250.5 L1964.0,1230.3 L1964.9,1240.8 L1965.8,1253.6 L1966.7,1244.0 L1967.6,1234.8 L1968.8,1258.1 L1969.6,1253.6 L1970.4,1251.0 L1971.2,1244.6 L1972.4,1269.8 L1973.3,1264.2 L1974.2,1259.0 L1975.1,1275.5 L1976.0,1285.9 L1977.4,1285.9 L1978.9,1264.4 L1980.1,1251.8 L1981.0,1237.5 L1980.7,1199.8 L1981.6,1190.1 L1982.5,1183.6 L1983.4,1183.0 L1984.3,1182.7 L1985.0,1217.7 L1986.4,1216.8 L1987.3,1163.9 L1988.6,1153.1 L1990.0,1140.5 L1990.9,1141.7 L1991.8,1139.6 L1993.2,1171.0 L1994.1,1168.1 L1995.0,1169.2 L1994.5,1133.3 L1995.4,1133.2 L1996.3,1131.5 L1997.2,1133.0 L1998.1,1133.3 L1999.0,1147.7 L2000.4,1160.3 L2001.3,1159.9 L2002.2,1161.2 L2002.9,1138.7 L2004.4,1117.2 L2005.4,1116.9 L2006.5,1117.2 L2007.6,1154.9 L2008.0,1188.1 L2008.9,1188.8 L2009.8,1185.4 L2010.6,1158.5 L2011.5,1157.9 L2012.4,1158.5 L2013.3,1160.6 L2014.2,1162.1 L2015.1,1187.2 L2013.7,1221.3 L2014.5,1222.2 L2015.3,1223.5 L2016.0,1222.2 L2016.9,1202.9 L2017.8,1189.0 L2018.4,1221.3 L2019.4,1219.4 L2020.5,1221.3 L2022.0,1187.2 L2022.7,1111.8 L2024.1,1110.9 L2025.5,1126.2 L2026.3,1101.0 L2027.7,1110.9 L2028.6,1074.1 L2029.5,1071.5 L2030.4,1072.3 L2031.3,1059.8 L2032.2,1048.1 L2033.4,1049.0 L2034.9,1075.9 L2035.8,1111.8 L2037.0,1111.8 L2037.6,1075.9 L2038.8,1093.9 L2039.9,1084.9 L2041.2,1103.7 L2042.1,1105.4 L2043.0,1105.5 L2043.5,1059.7 L2044.4,1060.8 L2045.3,1059.7 L2046.5,1084.9 L2047.3,1085.1 L2048.1,1088.0 L2048.9,1086.7 L2049.6,1149.5 L2050.4,1142.8 L2051.2,1137.2 L2051.9,1129.8 L2052.8,1153.1 L2054.3,1138.7 L2055.0,1175.5 L2056.4,1175.5 L2057.3,1147.7 L2058.2,1150.3 L2059.1,1154.9 L2058.6,1210.5 L2059.4,1215.2 L2060.1,1216.8 L2060.9,1221.3 L2061.8,1211.6 L2062.7,1198.9 L2064.0,1226.7 L2065.4,1204.2 L2066.3,1218.8 L2067.2,1231.2 L2068.1,1233.2 L2069.0,1230.3 L2070.4,1212.3 L2071.7,1202.4 L2072.5,1201.9 L2073.2,1200.9 L2074.0,1202.4 L2074.7,1233.0 L2075.6,1234.9 L2076.5,1234.8 L2077.6,1226.7 L2078.9,1251.8 L2080.1,1266.2 L2081.6,1264.4 L2083.0,1249.1 L2083.9,1257.2 L2084.8,1264.4 L2085.7,1258.8 L2086.6,1254.5 L2087.8,1260.8 L2088.7,1298.5 L2089.0,1307.6 L2090.4,1298.0 L2091.7,1286.9 L2092.8,1289.3 L2093.8,1295.2 L2094.6,1294.9 L2095.5,1292.5 L2096.8,1286.9 L2097.9,1260.7 L2099.3,1248.3 L2100.7,1246.9 L2101.7,1244.7 L2102.8,1247.6 L2103.8,1247.7 L2104.8,1249.0 L2106.0,1266.2 L2107.3,1280.0 L2108.3,1294.5 L2109.7,1292.5 L2111.1,1263.5 L2112.0,1249.7 L2113.4,1250.4 L2114.5,1263.5 L2115.6,1289.7 L2117.0,1263.5 L2118.4,1267.6 L2119.2,1281.4 L2120.0,1292.5 L2121.4,1284.2 L2122.5,1266.9 L2123.3,1269.4 L2124.2,1272.4 L2125.0,1265.8 L2125.8,1257.9 L2127.2,1244.1 L2128.2,1234.8 L2129.1,1235.0 L2130.0,1233.9 L2130.7,1240.5 L2131.5,1245.5 L2132.5,1243.7 L2133.6,1239.2 L2134.9,1256.6 L2136.3,1267.6 L2136.9,1284.2 L2137.8,1285.7 L2138.7,1285.6 L2140.0,1275.9 L2140.9,1274.0 L2141.8,1273.1 L2143.2,1276.6 L2144.6,1285.6 L2145.6,1281.4 L2147.0,1295.2 L2148.3,1296.6 L2149.0,1285.6 L2149.9,1283.3 L2150.7,1284.2 L2152.1,1285.6 L2153.2,1306.3 L2154.3,1322.8 L2155.2,1349.7 L2156.1,1341.4 L2157.0,1333.9 L2158.4,1349.1 L2159.8,1336.6 L2160.6,1342.0 L2161.4,1349.1 L2162.8,1338.7 L2163.7,1345.1 L2164.5,1350.4 L2165.9,1349.1 L2167.2,1329.7 L2168.6,1328.3 L2169.5,1330.6 L2170.4,1329.7 L2171.3,1331.4 L2172.2,1331.1 L2173.6,1339.4 L2175.0,1350.4 L2175.9,1368.4 L2176.4,1383.6 L2177.7,1398.8 L2178.7,1402.9 L2179.7,1396.0 L2181.0,1389.1 L2182.4,1384.9 L2183.8,1390.5 L2185.2,1400.1 L2186.1,1398.5 L2187.0,1398.8 L2188.4,1389.1 L2189.7,1380.8 L2191.1,1380.1 L2192.5,1389.1 L2193.5,1397.4 L2194.6,1391.8 L2195.7,1383.6 L2196.6,1370.5 L2198.0,1369.8 L2199.4,1378.0 L2200.8,1372.5 L2201.8,1384.9 L2202.6,1367.0 L2203.4,1366.6 L2204.2,1365.6 L2205.6,1371.1 L2206.4,1373.2 L2207.3,1375.3 L2208.2,1371.9 L2209.1,1369.8 L2210.5,1364.2 L2211.4,1364.9 L2212.2,1362.2 L2213.1,1363.3 L2213.9,1362.9 L2215.3,1367.0 L2216.7,1378.0 L2217.4,1384.9 L2218.7,1379.4 L2220.1,1380.8 L2221.1,1389.1 L2222.2,1393.2 L2223.0,1392.0 L2223.8,1389.8 L2224.7,1391.3 L2225.6,1396.0 L2227.0,1397.4 L2228.0,1384.9 L2229.4,1374.6 L2230.7,1373.2 L2231.8,1378.0 L2233.2,1391.8 L2234.6,1387.7 L2236.0,1397.4 L2236.8,1392.2 L2237.6,1393.9 L2238.5,1391.2 L2239.4,1390.5 L2240.3,1392.6 L2241.2,1391.8 L2242.6,1387.0 L2244.0,1384.9 L2244.8,1387.4 L2245.7,1390.5 L2246.5,1391.8 L2247.3,1393.2 L2248.2,1392.5 L2249.1,1392.5 L2250.1,1392.8 L2251.2,1391.8 L2252.2,1392.5 L2253.2,1393.2 L2254.3,1394.4 L2255.3,1391.2 L2256.4,1380.8 L2257.3,1380.3 L2258.1,1380.1 L2259.1,1380.1 L2260.1,1380.8 L2261.5,1379.4 L2262.9,1378.0 L2264.3,1382.2 L2265.0,1396.0 L2265.7,1411.9 L2267.1,1409.8 L2268.4,1402.9 L2269.8,1401.5 L2271.2,1405.7 L2272.6,1407.7 L2273.5,1406.5 L2274.4,1401.5 L2275.2,1404.2 L2276.0,1405.0 L2276.9,1404.1 L2277.7,1401.5 L2278.8,1398.1 L2279.8,1399.8 L2280.9,1400.1 L2281.8,1398.4 L2282.7,1396.7 L2283.5,1398.1 L2284.3,1398.8 L2285.7,1393.9 L2287.1,1392.5 L2288.4,1398.8 L2289.3,1401.2 L2290.1,1402.2 L2291.0,1400.3 L2291.9,1398.1 L2292.8,1396.3 L2293.7,1399.4 L2294.5,1400.2 L2295.4,1397.4 L2296.4,1398.5 L2297.4,1400.8 L2298.5,1399.0 L2299.5,1398.8 L2300.5,1397.3 L2301.6,1396.7 L2302.9,1391.8 L2303.6,1384.9 L2304.3,1370.5 L2305.7,1369.8 L2307.1,1372.5 L2308.1,1360.1 L2308.9,1358.8 L2309.8,1359.4 L2310.7,1358.6 L2311.6,1360.1 L2312.5,1357.9 L2313.3,1356.0 L2314.7,1353.9 L2315.5,1355.4 L2316.3,1354.6 L2317.7,1358.7 L2318.6,1357.6 L2319.5,1357.3 L2320.9,1368.4 L2322.3,1369.1 L2323.2,1367.3 L2324.1,1364.2 L2325.0,1350.4 L2325.9,1348.0 L2326.8,1349.1 L2328.2,1347.7 L2329.6,1354.6 L2330.4,1357.6 L2331.2,1358.7 L2332.6,1355.3 L2333.5,1354.1 L2334.3,1356.0 L2335.7,1364.2 L2336.8,1361.5 L2338.1,1372.5 L2339.5,1377.4 L2340.6,1364.2 L2341.6,1347.7 L2343.0,1331.1 L2343.7,1327.0 L2344.5,1328.2 L2345.3,1327.7 L2346.2,1330.5 L2347.1,1335.3 L2348.5,1326.3 L2349.9,1335.3 L2351.3,1324.2 L2352.6,1322.8 L2354.0,1329.7 L2354.9,1326.5 L2355.8,1324.9 L2356.8,1314.5 L2358.2,1313.2 L2359.2,1310.8 L2360.2,1311.8 L2361.3,1311.2 L2362.3,1313.9 L2363.7,1333.9 L2365.1,1332.5 L2366.4,1321.4 L2367.8,1319.4 L2369.2,1328.3 L2370.6,1325.6 L2372.0,1320.1 L2373.3,1319.4 L2374.7,1328.3 L2376.1,1336.6 L2377.5,1338.0 L2378.9,1333.9 L2380.2,1336.6 L2381.3,1335.3 L2382.3,1334.6 L2383.1,1336.4 L2384.0,1340.8 L2384.9,1339.8 L2385.8,1339.4 L2387.2,1329.0 L2388.5,1331.1 L2389.9,1336.6 L2391.3,1344.9 L2392.7,1335.3 L2393.6,1337.4 L2394.5,1336.6 L2395.3,1341.7 L2396.1,1349.1 L2397.5,1347.7 L2398.9,1336.6 L2399.6,1317.3 L2400.0,1319.6 L2400.8,1316.7 L2401.6,1314.7 L2402.4,1314.3 L2403.1,1313.3 L2403.9,1313.8 L2404.9,1314.2 L2405.8,1314.7 L2406.7,1314.1 L2407.5,1314.2 L2408.4,1311.8 L2409.3,1314.3 L2410.3,1318.6 L2411.3,1317.4 L2412.2,1316.7 L2413.2,1313.1 L2414.1,1309.9 L2415.1,1316.3 L2416.1,1319.6 L2416.9,1318.6 L2417.8,1320.4 L2418.6,1320.5 L2419.6,1323.9 L2420.5,1325.4 L2421.3,1325.8 L2422.1,1323.8 L2422.8,1324.4 L2423.6,1322.1 L2424.4,1320.1 L2425.2,1321.5 L2426.0,1322.1 L2426.8,1323.7 L2427.7,1325.4 L2428.6,1321.8 L2429.6,1323.2 L2430.6,1320.5 L2431.3,1321.1 L2432.1,1320.9 L2432.9,1321.5 L2433.9,1322.3 L2434.8,1324.4 L2436.0,1342.8 L2436.8,1343.7 L2437.5,1343.0 L2438.3,1343.7 L2439.1,1344.1 L2439.8,1342.4 L2440.6,1342.8 L2441.6,1339.8 L2442.6,1334.1 L2443.5,1331.5 L2444.5,1333.1 L2445.3,1337.5 L2446.0,1344.7 L2446.8,1346.4 L2447.6,1344.8 L2448.3,1342.8 L2449.2,1346.8 L2450.0,1345.6 L2450.9,1348.5 L2451.8,1345.6 L2452.8,1340.8 L2453.6,1340.8 L2454.5,1339.4 L2455.3,1337.0 L2456.1,1337.0 L2456.8,1339.5 L2457.6,1337.9 L2458.4,1340.1 L2459.2,1339.5 L2459.9,1342.8 L2460.8,1342.4 L2461.6,1335.8 L2462.4,1332.1 L2463.3,1334.1 L2464.1,1331.9 L2465.0,1333.1 L2465.9,1330.9 L2466.9,1331.2 L2467.7,1334.9 L2468.4,1337.4 L2469.2,1338.9 L2470.2,1337.9 L2471.1,1338.9 L2472.1,1334.4 L2473.1,1329.2 L2474.0,1323.6 L2475.0,1321.5 L2475.8,1305.3 L2476.6,1294.5 L2477.5,1294.9 L2478.5,1292.5 L2479.5,1291.5 L2480.4,1293.5 L2481.4,1292.0 L2482.3,1288.7 L2483.1,1290.7 L2483.9,1290.4 L2484.7,1290.6 L2485.6,1285.8 L2486.6,1277.1 L2487.6,1282.8 L2488.5,1287.7 L2489.5,1281.3 L2490.5,1274.2 L2491.4,1280.4 L2492.4,1286.7 L2493.2,1284.0 L2493.9,1280.7 L2494.7,1277.1 L2495.6,1276.8 L2496.4,1278.9 L2497.2,1280.0 L2498.2,1278.0 L2499.2,1277.1 L2500.5,1265.5 L2501.7,1240.4 L2502.6,1243.6 L2503.6,1239.4 L2504.6,1242.4 L2505.5,1242.3 L2506.9,1257.7 L2507.9,1251.9 L2508.8,1248.1 L2509.8,1253.2 L2510.7,1256.8 L2511.7,1248.2 L2512.7,1244.2 L2513.6,1245.3 L2514.6,1246.2 L2515.6,1254.3 L2516.5,1257.7 L2517.5,1255.9 L2518.5,1253.9 L2519.8,1242.3 L2520.8,1248.8 L2521.8,1251.9 L2522.5,1240.4 L2523.3,1229.7 L2524.3,1231.8 L2525.2,1232.6 L2526.0,1237.0 L2526.8,1240.4 L2527.6,1253.9 L2528.5,1253.9 L2529.5,1259.7 L2530.3,1264.4 L2531.0,1271.3 L2532.0,1279.0 L2533.0,1275.7 L2533.9,1267.4 L2535.3,1257.7 L2536.1,1256.3 L2537.0,1258.7 L2537.8,1256.8 L2538.8,1261.4 L2539.7,1261.6 L2541.1,1248.1 L2541.9,1241.3 L2542.6,1234.6 L2543.6,1227.2 L2544.6,1217.2 L2545.3,1213.3 L2546.1,1208.5 L2547.1,1207.2 L2548.0,1207.5 L2549.4,1217.2 L2550.4,1218.9 L2551.3,1219.1 L2552.3,1216.8 L2553.3,1213.3 L2552.7,1155.3 L2553.6,1153.1 L2554.6,1153.4 L2555.8,1157.3 L2557.1,1124.4 L2558.1,1133.5 L2559.0,1143.8 L2560.0,1125.6 L2561.0,1110.9 L2561.8,1110.5 L2562.5,1110.9 L2563.3,1110.9 L2564.1,1122.2 L2564.8,1136.0 L2563.9,1157.3 L2564.7,1161.3 L2565.4,1171.0 L2566.2,1176.6 L2567.0,1163.8 L2567.7,1147.6 L2568.7,1168.9 L2569.7,1151.7 L2570.6,1137.0 L2571.5,1136.1 L2572.3,1134.2 L2573.2,1134.1 L2574.1,1148.1 L2575.1,1168.9 L2576.1,1156.2 L2577.0,1138.0 L2577.8,1138.0 L2578.6,1135.5 L2579.3,1137.0 L2580.3,1148.8 L2581.3,1157.3 L2580.3,1176.6 L2581.1,1182.9 L2581.9,1189.1 L2582.8,1193.5 L2583.6,1197.9 L2584.6,1184.1 L2585.5,1168.9 L2586.3,1170.3 L2587.1,1167.9 L2588.0,1174.8 L2589.0,1182.4 L2590.0,1189.5 L2590.9,1195.9 L2591.7,1206.1 L2592.5,1219.1 L2593.4,1201.7 L2594.4,1187.2 L2595.4,1190.9 L2596.3,1194.0 L2597.1,1198.8 L2597.9,1200.9 L2598.7,1207.5 L2599.6,1193.5 L2600.6,1178.5 L2601.6,1178.9 L2602.5,1176.6 L2603.3,1162.9 L2604.1,1152.4 L2605.4,1153.4 L2606.4,1164.6 L2607.3,1176.6 L2608.3,1175.0 L2609.3,1168.9 L2610.2,1182.4 L2611.0,1177.4 L2611.8,1175.4 L2612.6,1170.8 L2613.7,1163.1 L2614.7,1168.0 L2615.7,1170.8 L2616.6,1173.0 L2617.6,1174.7 L2618.9,1188.2 L2619.9,1191.3 L2620.9,1194.0 L2621.8,1199.6 L2622.8,1203.6 L2623.8,1205.0 L2624.7,1205.6 L2625.3,1224.9 L2626.1,1225.7 L2626.9,1224.3 L2627.6,1226.8 L2628.4,1220.4 L2629.2,1213.3 L2630.5,1213.3 L2631.5,1246.2 L2632.5,1247.5 L2633.4,1251.0 L2634.4,1248.6 L2635.4,1242.3 L2636.3,1226.8 L2637.3,1205.6 L2638.3,1206.5 L2639.2,1204.6 L2640.0,1195.5 L2640.8,1192.1 L2641.7,1201.1 L2642.7,1207.5 L2643.7,1200.4 L2644.6,1193.0 L2645.4,1191.6 L2646.2,1191.4 L2647.0,1193.0 L2647.7,1203.6 L2648.5,1211.4 L2649.9,1224.9 L2650.4,1262.6 L2651.4,1243.9 L2652.4,1226.8 L2653.3,1229.6 L2654.3,1232.6 L2655.3,1240.4 L2656.2,1248.1 L2657.2,1241.6 L2658.2,1232.6 L2659.1,1234.0 L2660.1,1242.3 L2661.4,1217.2 L2662.4,1218.3 L2663.4,1216.2 L2664.7,1240.4 L2665.6,1240.6 L2666.4,1242.4 L2667.2,1244.2 L2668.2,1248.9 L2669.2,1251.9 L2669.8,1269.3 L2670.5,1267.2 L2671.3,1261.2 L2672.1,1261.6 L2672.8,1249.8 L2673.6,1236.5 L2674.6,1243.1 L2675.5,1250.0 L2676.9,1226.8 L2677.9,1222.6 L2678.8,1221.0 L2680.0,1216.2 L2680.7,1217.4 L2681.5,1214.9 L2682.4,1214.1 L2683.2,1212.4 L2684.0,1214.9 L2685.2,1238.9 L2686.0,1240.8 L2686.8,1240.6 L2688.2,1229.0 L2689.5,1243.9 L2690.3,1246.6 L2691.1,1245.6 L2692.3,1234.0 L2693.1,1212.4 L2694.0,1209.1 L2694.8,1207.4 L2695.6,1205.6 L2696.4,1205.0 L2697.3,1204.3 L2698.1,1207.4 L2699.4,1219.9 L2700.3,1216.9 L2701.1,1215.7 L2701.7,1192.5 L2702.7,1189.2 L2703.9,1214.1 L2704.7,1214.0 L2705.6,1216.6 L2706.4,1215.3 L2707.2,1214.1 L2706.7,1185.9 L2708.0,1178.5 L2708.9,1178.6 L2709.7,1174.3 L2709.7,1126.3 L2710.5,1118.0 L2711.4,1126.8 L2712.2,1132.9 L2712.7,1114.7 L2713.5,1115.1 L2714.3,1113.0 L2715.0,1089.8 L2716.1,1088.1 L2717.2,1089.0 L2718.3,1099.8 L2719.3,1126.3 L2720.5,1125.4 L2721.0,1103.1 L2721.8,1107.5 L2722.6,1109.7 L2723.5,1101.7 L2724.3,1095.6 L2725.1,1094.9 L2725.9,1096.4 L2727.1,1119.6 L2727.9,1118.9 L2728.8,1116.3 L2729.6,1088.2 L2730.4,1085.1 L2731.2,1082.4 L2732.1,1086.8 L2732.9,1084.9 L2733.2,1121.3 L2734.2,1139.5 L2735.0,1131.9 L2735.9,1123.8 L2736.7,1123.0 L2737.5,1123.0 L2738.4,1140.5 L2739.2,1156.1 L2740.0,1143.0 L2740.8,1132.9 L2741.7,1140.4 L2742.5,1146.1 L2743.2,1118.0 L2744.0,1119.6 L2744.8,1117.2 L2745.8,1161.9 L2746.6,1158.0 L2747.5,1154.4 L2748.3,1143.0 L2749.1,1132.9 L2750.3,1114.7 L2751.4,1113.6 L2752.4,1109.7 L2753.3,1118.2 L2754.1,1129.6 L2755.3,1118.0 L2756.1,1124.3 L2756.9,1129.6 L2758.1,1120.5 L2758.9,1120.2 L2759.7,1121.3 L2760.2,1156.1 L2761.3,1147.0 L2762.4,1137.0 L2761.9,1161.1 L2763.0,1159.2 L2764.0,1159.4 L2765.0,1162.3 L2766.0,1163.5 L2767.4,1159.4 L2768.3,1164.3 L2769.3,1167.7 L2770.3,1164.2 L2771.3,1156.1 L2772.7,1157.7 L2774.0,1177.6 L2774.0,1217.4 L2774.8,1216.1 L2775.6,1215.7 L2776.8,1176.0 L2778.0,1174.3 L2779.0,1209.1 L2779.8,1200.6 L2780.6,1190.9 L2781.8,1239.8 L2782.6,1233.7 L2783.4,1232.3 L2784.3,1228.8 L2785.1,1227.3 L2785.9,1218.6 L2786.7,1209.1 L2787.6,1215.6 L2788.4,1225.7 L2789.2,1216.8 L2790.1,1208.3 L2790.9,1206.3 L2791.7,1206.6 L2792.9,1229.0 L2793.7,1229.6 L2794.5,1229.0 L2795.9,1217.4 L2797.2,1232.3 L2798.0,1243.8 L2798.8,1253.8 L2799.7,1248.3 L2800.5,1243.9 L2801.7,1219.0 L2802.5,1220.3 L2803.3,1219.9 L2804.1,1222.9 L2805.0,1227.3 L2805.8,1225.4 L2806.6,1223.2 L2807.4,1221.8 L2808.3,1219.0 L2807.1,1189.2 L2807.9,1189.1 L2808.8,1187.6 L2809.8,1186.7 L2810.8,1184.3 L2811.6,1189.8 L2812.4,1190.9 L2813.2,1185.1 L2814.1,1180.9 L2815.1,1185.7 L2816.1,1190.9 L2816.9,1184.4 L2817.7,1182.6 L2818.2,1156.1 L2819.0,1156.8 L2819.9,1155.3 L2820.7,1157.5 L2821.5,1162.7 L2822.4,1162.4 L2823.2,1163.5 L2824.0,1159.2 L2824.8,1156.1 L2825.3,1137.0 L2826.2,1137.6 L2827.0,1137.0 L2828.2,1152.8 L2829.0,1149.5 L2829.8,1147.0 L2831.0,1169.3 L2831.8,1166.5 L2832.6,1164.4 L2833.5,1172.8 L2834.3,1180.9 L2835.1,1170.6 L2835.9,1161.1 L2836.9,1151.1 L2837.9,1151.1 L2838.9,1151.1 L2839.8,1174.3 L2840.6,1168.9 L2841.4,1166.0 L2842.2,1166.1 L2843.1,1167.7 L2844.2,1180.9 L2845.6,1189.2 L2846.4,1176.0 L2847.2,1166.0 L2848.0,1171.3 L2848.9,1174.3 L2849.9,1176.7 L2850.9,1176.8 L2851.7,1170.6 L2852.5,1162.7 L2853.3,1167.3 L2854.2,1171.0 L2855.5,1169.3 L2856.3,1142.8 L2857.2,1138.7 L2858.0,1136.2 L2858.8,1136.5 L2859.6,1135.4" fill="none" stroke="#f7931a" stroke-width="5.1" stroke-linejoin="round" stroke-linecap="butt"/>
<path d="M340.4,1210.8 L341.2,1217.0 L342.0,1209.7 L342.8,1196.4 L343.7,1187.2 L344.5,1188.9 L345.4,1189.7 L346.9,1198.4 L347.9,1197.5 L348.9,1197.2 L349.9,1195.2 L350.7,1195.1 L351.5,1197.7 L352.4,1199.6 L353.2,1202.1 L354.0,1205.1 L354.8,1209.6 L355.8,1209.1 L356.8,1209.8 L357.8,1210.8 L359.3,1234.4 L360.1,1236.6 L361.0,1238.4 L361.8,1241.9 L362.7,1244.8 L363.5,1246.8 L364.8,1244.3 L365.8,1259.9 L366.8,1276.6 L367.6,1254.5 L368.5,1239.4 L369.4,1232.6 L370.2,1223.2 L371.2,1227.1 L372.2,1231.9 L373.1,1230.3 L373.9,1230.6 L374.7,1229.4 L375.7,1239.6 L376.7,1249.3 L377.7,1248.5 L378.7,1246.7 L379.7,1246.8 L380.5,1249.5 L381.3,1250.1 L382.2,1254.3 L383.2,1254.2 L384.2,1249.6 L385.2,1249.3 L386.0,1248.6 L386.9,1248.3 L387.8,1248.1 L388.7,1247.1 L389.6,1246.8 L390.5,1239.9 L391.3,1227.9 L392.1,1224.5 L392.9,1220.1 L393.8,1215.9 L394.6,1212.0 L395.6,1208.9 L396.6,1207.1 L397.5,1199.9 L398.3,1189.7 L399.2,1188.5 L400.0,1189.5 L400.8,1189.7 L401.6,1188.5 L402.5,1192.3 L403.3,1193.4 L404.5,1212.0 L405.5,1207.6 L406.5,1205.2 L407.5,1204.6 L408.5,1208.3 L409.5,1207.1 L410.3,1210.2 L411.2,1211.9 L412.0,1214.5 L412.8,1211.3 L413.6,1206.2 L414.5,1204.6 L415.3,1199.6 L416.1,1197.5 L417.0,1193.4 L417.8,1193.0 L418.6,1197.7 L419.4,1199.6 L420.4,1197.2 L421.3,1199.0 L422.2,1197.3 L423.2,1198.4 L424.0,1200.6 L424.8,1200.2 L425.7,1199.6 L426.6,1198.9 L427.5,1197.4 L428.4,1198.6 L429.4,1199.6 L430.2,1201.1 L431.0,1201.7 L431.9,1204.6 L432.9,1209.1 L433.9,1213.3 L434.7,1211.8 L435.5,1208.1 L436.3,1205.8 L437.3,1206.5 L438.3,1209.1 L439.3,1209.6 L440.1,1208.3 L441.0,1208.7 L441.8,1207.1 L442.8,1216.5 L443.8,1227.0 L444.8,1239.4 L445.8,1234.8 L446.8,1227.0 L447.7,1226.5 L448.6,1225.6 L449.6,1226.9 L450.5,1227.0 L451.3,1229.0 L452.2,1231.6 L453.0,1235.7 L453.8,1235.0 L454.6,1235.5 L455.5,1234.4 L456.3,1233.5 L457.1,1237.5 L458.0,1239.4 L458.9,1238.4 L459.8,1237.8 L460.7,1238.3 L461.7,1236.9 L462.5,1238.6 L463.3,1244.1 L464.2,1246.8 L465.4,1264.2 L466.2,1258.9 L467.1,1254.3 L467.9,1249.3 L468.7,1253.9 L469.5,1258.8 L470.4,1264.2 L471.2,1266.8 L472.0,1271.2 L472.9,1274.2 L473.9,1286.3 L474.8,1294.0 L476.0,1287.6 L477.1,1279.1 L478.0,1274.6 L478.9,1268.9 L479.8,1263.0 L480.8,1263.6 L481.8,1266.0 L482.8,1266.7 L483.6,1271.4 L484.5,1270.1 L485.3,1274.2 L486.1,1278.3 L486.9,1281.8 L487.8,1284.1 L488.6,1286.8 L489.4,1289.8 L490.2,1293.0 L491.0,1294.0 L492.0,1293.1 L493.0,1288.8 L494.0,1284.1 L494.8,1284.2 L495.6,1281.1 L496.5,1279.1 L497.7,1255.5 L498.5,1260.1 L499.4,1263.1 L500.2,1266.7 L501.2,1271.9 L502.2,1276.1 L503.2,1281.6 L504.2,1277.3 L505.2,1271.7 L506.1,1272.9 L507.0,1270.8 L508.0,1271.0 L508.9,1270.4 L509.8,1271.4 L510.7,1271.0 L511.7,1272.4 L512.6,1271.7 L513.4,1274.4 L514.3,1275.3 L515.1,1279.1 L515.9,1279.6 L516.7,1283.2 L517.6,1284.1 L518.4,1289.7 L519.2,1295.2 L520.1,1299.0 L520.9,1295.9 L521.7,1292.6 L522.5,1289.1 L523.4,1288.9 L524.2,1293.9 L525.0,1294.0 L526.0,1294.6 L527.0,1298.5 L528.0,1299.0 L529.5,1323.9 L530.5,1317.6 L531.5,1313.1 L532.5,1308.9 L533.4,1324.0 L534.2,1338.8 L535.7,1384.7 L536.6,1373.7 L537.5,1363.6 L538.3,1358.6 L539.1,1356.3 L539.9,1351.2 L541.2,1331.3 L542.2,1325.2 L543.2,1317.6 L544.0,1332.3 L544.9,1346.2 L545.7,1343.3 L546.6,1340.3 L547.4,1338.8 L548.6,1351.2 L549.6,1350.3 L550.5,1349.9 L551.4,1350.2 L552.4,1349.9 L553.4,1339.6 L554.3,1327.6 L555.2,1333.0 L556.1,1338.8 L556.9,1337.0 L557.7,1336.4 L558.6,1336.3 L559.6,1337.7 L560.6,1336.4 L561.6,1336.3 L562.5,1326.6 L563.5,1316.4 L564.4,1315.9 L565.2,1315.4 L566.0,1313.9 L567.0,1312.2 L567.9,1311.5 L568.8,1309.2 L569.8,1306.5 L570.6,1304.6 L571.4,1308.8 L572.2,1313.4 L573.0,1311.4 L573.9,1316.2 L574.7,1323.9 L575.5,1327.3 L576.4,1331.7 L577.2,1333.8 L578.0,1333.4 L578.9,1334.4 L579.7,1332.5 L580.5,1329.9 L581.3,1328.7 L582.2,1328.8 L583.0,1327.4 L583.8,1325.5 L584.7,1325.1 L585.5,1327.6 L586.3,1333.2 L587.1,1336.3 L588.0,1341.1 L588.8,1345.4 L589.6,1349.9 L590.6,1347.3 L591.5,1345.9 L592.4,1343.3 L593.4,1341.2 L594.3,1342.0 L595.2,1344.9 L596.1,1346.3 L597.1,1347.5 L598.0,1345.7 L598.9,1344.5 L599.9,1340.6 L600.8,1340.0 L601.7,1338.6 L602.7,1336.9 L603.6,1337.7 L604.5,1335.0 L605.5,1336.5 L606.4,1339.2 L607.3,1339.6 L608.3,1338.8 L609.1,1338.8 L609.9,1338.4 L610.7,1340.0 L611.7,1339.9 L612.6,1338.4 L613.5,1338.0 L614.5,1337.5 L615.3,1337.6 L616.1,1340.7 L617.0,1341.2 L617.8,1343.5 L618.6,1345.8 L619.4,1347.5 L620.4,1347.8 L621.3,1346.5 L622.2,1345.0 L623.2,1347.5 L624.0,1345.9 L624.8,1344.3 L625.7,1343.7 L626.5,1339.4 L627.3,1337.3 L628.1,1332.5 L629.1,1333.4 L630.0,1336.1 L630.9,1335.5 L631.9,1336.3 L632.8,1334.2 L633.7,1331.2 L634.7,1328.8 L635.6,1325.1 L636.5,1322.8 L637.5,1324.4 L638.4,1322.4 L639.3,1321.4 L640.1,1318.4 L640.9,1318.3 L641.7,1316.2 L642.5,1313.9 L644.0,1299.0 L645.5,1313.9 L646.5,1316.0 L647.4,1316.0 L648.3,1316.2 L649.3,1316.4 L650.2,1312.0 L651.2,1311.2 L652.0,1311.4 L652.8,1309.5 L653.7,1306.2 L654.5,1309.1 L655.3,1310.9 L656.1,1312.4 L657.0,1314.6 L657.8,1313.1 L658.6,1314.9 L659.5,1320.0 L660.4,1323.6 L661.2,1322.0 L662.0,1319.2 L662.9,1318.6 L663.9,1322.1 L664.8,1324.8 L665.8,1329.6 L666.8,1333.5 L667.8,1348.4 L668.8,1354.0 L669.8,1355.9 L671.1,1344.7 L671.9,1345.3 L672.7,1342.1 L673.5,1343.5 L674.4,1342.1 L675.2,1345.0 L676.0,1346.0 L676.9,1341.6 L677.7,1336.7 L678.5,1333.5 L679.3,1334.0 L680.2,1337.5 L681.0,1339.8 L681.8,1339.7 L682.6,1341.5 L683.4,1344.4 L684.2,1344.7 L685.2,1345.4 L686.2,1344.7 L687.2,1346.0 L688.0,1343.1 L688.9,1342.4 L689.7,1341.0 L690.6,1342.0 L691.6,1338.6 L692.5,1340.1 L693.4,1337.3 L694.2,1335.2 L695.1,1334.6 L695.9,1333.5 L696.8,1333.7 L697.8,1331.4 L698.7,1331.7 L699.6,1331.1 L700.6,1324.0 L701.6,1319.9 L702.4,1320.2 L703.3,1320.3 L704.1,1318.6 L705.1,1315.4 L706.1,1313.9 L707.1,1311.2 L707.9,1307.4 L708.7,1302.2 L709.6,1301.2 L710.4,1298.1 L711.2,1289.5 L712.0,1282.6 L713.5,1260.2 L714.4,1265.5 L715.3,1268.9 L716.1,1270.6 L717.0,1271.4 L718.3,1301.2 L719.1,1295.2 L720.0,1288.8 L720.8,1293.3 L721.6,1290.5 L722.4,1294.1 L723.2,1296.3 L724.1,1295.4 L724.9,1295.2 L725.7,1295.0 L726.6,1287.7 L727.5,1278.9 L728.4,1274.4 L729.4,1271.4 L730.3,1270.0 L731.1,1270.2 L731.9,1271.4 L732.8,1267.8 L733.6,1264.2 L734.4,1259.0 L735.4,1253.1 L736.4,1245.3 L737.4,1245.9 L738.4,1242.3 L739.4,1241.6 L740.4,1243.5 L741.4,1244.0 L742.4,1244.1 L743.4,1243.3 L744.3,1242.9 L745.3,1248.9 L746.3,1256.5 L747.3,1255.0 L748.3,1250.8 L749.3,1249.1 L750.3,1246.7 L751.3,1243.9 L752.3,1242.9 L753.1,1246.8 L754.0,1246.9 L754.8,1249.1 L755.8,1253.5 L756.8,1259.0 L757.8,1277.6 L759.3,1264.0 L760.1,1261.2 L760.9,1258.8 L761.7,1256.5 L762.6,1260.8 L763.4,1262.9 L764.2,1268.9 L765.1,1270.1 L765.9,1274.5 L766.7,1276.4 L767.6,1277.0 L768.6,1274.0 L769.5,1274.7 L770.4,1273.9 L771.4,1273.0 L772.3,1270.8 L773.2,1272.6 L774.2,1272.7 L775.0,1266.9 L775.8,1264.5 L776.6,1259.0 L777.5,1255.9 L778.3,1253.2 L779.1,1250.3 L780.1,1248.7 L781.0,1250.5 L781.9,1248.2 L782.9,1250.3 L783.7,1251.0 L784.5,1252.7 L785.3,1251.6 L786.2,1254.4 L787.0,1260.8 L787.8,1264.0 L788.7,1263.0 L789.5,1258.8 L790.3,1256.5 L791.2,1258.4 L792.2,1257.9 L793.1,1257.8 L794.0,1259.0 L795.0,1256.2 L795.9,1256.6 L796.8,1255.5 L797.8,1256.5 L798.7,1258.8 L799.6,1256.2 L800.6,1255.4 L801.5,1255.3 L802.3,1255.0 L803.1,1259.7 L804.0,1259.0 L804.9,1256.8 L805.8,1258.8 L806.8,1257.4 L807.7,1255.3 L808.6,1255.0 L809.6,1253.9 L810.5,1254.3 L811.4,1254.0 L812.4,1251.0 L813.3,1251.6 L814.2,1251.2 L815.2,1247.8 L816.0,1246.7 L816.8,1244.8 L817.6,1241.6 L818.5,1242.5 L819.3,1245.3 L820.1,1246.6 L821.1,1244.5 L822.0,1244.2 L822.9,1244.6 L823.9,1242.9 L824.8,1245.6 L825.7,1242.9 L826.6,1242.9 L827.6,1242.9 L828.5,1241.4 L829.4,1244.3 L830.4,1243.7 L831.3,1245.3 L832.3,1245.5 L833.3,1247.0 L834.3,1250.3 L835.1,1248.9 L835.9,1246.8 L836.7,1246.4 L837.5,1244.1 L838.8,1221.7 L839.6,1220.2 L840.4,1219.2 L841.2,1218.0 L842.2,1215.3 L843.2,1209.3 L844.1,1209.8 L844.9,1209.3 L845.7,1208.1 L846.6,1196.7 L847.5,1182.0 L848.7,1168.3 L849.5,1168.6 L850.3,1167.2 L851.1,1167.4 L851.9,1168.3 L852.8,1184.6 L853.7,1204.3 L854.5,1202.7 L855.3,1199.8 L856.1,1198.1 L857.1,1197.5 L858.1,1195.7 L859.0,1189.7 L859.9,1182.0 L860.7,1185.2 L861.5,1190.5 L862.4,1194.4 L863.2,1195.4 L864.0,1193.7 L864.8,1193.2 L865.8,1192.3 L866.7,1189.2 L867.6,1186.5 L868.6,1185.7 L869.5,1186.7 L870.4,1186.1 L871.4,1190.2 L872.3,1190.7 L873.2,1190.4 L874.2,1192.8 L875.1,1190.3 L876.0,1191.9 L877.3,1209.3 L878.5,1220.5 L879.3,1216.1 L880.2,1211.8 L881.0,1206.8 L881.8,1206.6 L882.7,1207.3 L883.5,1206.8 L884.3,1208.1 L885.1,1209.8 L886.0,1213.0 L886.8,1210.2 L887.6,1209.9 L888.4,1209.3 L889.3,1208.8 L890.1,1210.4 L890.9,1210.6 L891.8,1209.7 L892.6,1209.0 L893.4,1209.3 L894.2,1209.3 L895.1,1208.9 L895.9,1211.8 L896.7,1208.1 L897.6,1205.6 L898.4,1201.9 L899.2,1199.1 L900.0,1199.1 L900.9,1198.1 L901.7,1200.1 L902.5,1199.8 L903.4,1201.9 L904.3,1202.7 L905.2,1202.6 L906.1,1206.5 L907.1,1204.3 L907.9,1206.6 L908.7,1207.0 L909.6,1206.3 L910.5,1204.8 L911.4,1205.4 L912.4,1203.7 L913.3,1203.1 L914.2,1202.9 L915.2,1201.2 L916.1,1201.4 L917.0,1200.6 L918.0,1198.5 L918.9,1198.5 L919.8,1198.9 L920.7,1195.7 L921.7,1193.8 L922.6,1193.6 L923.5,1195.3 L924.5,1194.4 L925.3,1196.2 L926.1,1195.9 L926.9,1197.9 L927.7,1198.1 L928.6,1194.9 L929.4,1190.7 L930.3,1186.3 L931.2,1180.7 L932.0,1180.7 L932.8,1176.9 L933.6,1176.8 L934.4,1174.5 L935.2,1176.8 L936.1,1177.9 L936.9,1180.7 L937.7,1180.5 L938.6,1177.6 L939.4,1178.3 L940.2,1178.3 L941.0,1182.8 L941.9,1183.2 L942.7,1179.1 L943.5,1179.3 L944.3,1174.5 L945.3,1176.0 L946.2,1174.6 L947.1,1174.5 L948.1,1175.8 L949.0,1171.7 L949.9,1172.6 L950.9,1169.3 L951.8,1169.6 L952.7,1171.0 L953.7,1167.1 L954.6,1168.7 L955.5,1168.3 L956.5,1164.5 L957.4,1166.3 L958.3,1167.4 L959.3,1165.1 L959.4,1165.1 L960.1,1163.9 L960.9,1162.8 L961.7,1162.5 L962.4,1162.3 L963.4,1153.8 L964.4,1144.4 L965.3,1144.0 L966.2,1141.3 L967.1,1140.2 L967.9,1133.8 L968.8,1131.9 L969.7,1133.0 L970.7,1133.3 L971.7,1124.8 L972.6,1114.0 L973.7,1133.1 L974.8,1147.1 L975.7,1156.3 L976.5,1165.1 L977.3,1160.2 L978.2,1154.3 L979.0,1149.9 L979.9,1150.3 L980.8,1151.0 L981.8,1148.5 L982.7,1145.1 L983.6,1144.0 L984.5,1141.6 L985.4,1140.9 L986.4,1141.8 L987.3,1143.0 L988.2,1137.3 L989.2,1131.9 L990.1,1129.7 L991.0,1125.5 L992.0,1123.7 L992.9,1123.8 L993.8,1126.1 L994.7,1125.0 L995.6,1127.0 L996.6,1128.6 L997.5,1129.2 L998.4,1127.3 L999.3,1124.4 L1000.2,1122.3 L1001.4,1115.2 L1002.5,1107.1 L1003.6,1107.0 L1004.7,1105.7 L1005.5,1102.8 L1006.3,1101.1 L1007.2,1097.0 L1008.0,1094.1 L1008.8,1098.7 L1009.6,1101.3 L1010.5,1105.7 L1011.3,1108.5 L1012.2,1104.8 L1013.1,1102.0 L1014.0,1098.5 L1014.9,1096.9 L1016.3,1133.3 L1017.4,1134.0 L1018.5,1131.9 L1019.6,1137.3 L1020.7,1141.6 L1021.5,1136.3 L1022.3,1131.3 L1023.2,1125.0 L1024.1,1119.5 L1025.0,1115.9 L1025.9,1111.2 L1026.8,1108.4 L1027.8,1104.5 L1028.7,1104.3 L1029.6,1103.6 L1030.5,1102.4 L1031.4,1103.0 L1032.4,1105.9 L1033.3,1104.9 L1034.2,1107.1 L1035.1,1104.1 L1036.0,1103.6 L1037.0,1100.2 L1037.9,1098.3 L1038.8,1095.0 L1039.7,1094.7 L1040.6,1091.2 L1041.6,1086.5 L1042.5,1083.6 L1043.4,1080.0 L1044.3,1071.4 L1045.3,1067.1 L1046.2,1063.5 L1047.2,1061.5 L1048.0,1049.5 L1048.8,1043.6 L1049.8,1046.1 L1050.7,1052.1 L1051.6,1053.3 L1052.5,1049.4 L1053.4,1044.8 L1054.4,1042.2 L1055.3,1032.9 L1056.3,1022.9 L1057.7,1003.6 L1058.8,1014.3 L1059.9,1025.7 L1060.9,1017.3 L1061.8,1009.1 L1062.7,1005.4 L1063.7,998.5 L1064.6,989.8 L1066.0,978.7 L1067.1,977.1 L1068.2,971.8 L1069.1,989.6 L1070.1,1003.6 L1071.0,997.0 L1071.9,990.3 L1072.9,987.0 L1073.8,988.8 L1074.7,989.3 L1075.6,989.8 L1076.6,996.7 L1077.6,1003.6 L1078.5,1000.7 L1079.4,998.8 L1080.3,995.3 L1081.2,995.0 L1082.2,993.7 L1083.1,992.5 L1084.0,995.8 L1084.9,997.8 L1085.8,1000.8 L1086.9,1008.7 L1088.0,1017.4 L1088.9,1028.6 L1089.7,1036.7 L1090.5,1019.8 L1091.4,1003.6 L1092.2,994.1 L1093.0,980.1 L1094.0,988.4 L1094.9,995.3 L1095.9,992.6 L1096.8,991.0 L1097.7,987.0 L1098.6,984.6 L1099.5,983.1 L1100.5,981.5 L1101.8,959.4 L1103.0,954.9 L1104.1,951.1 L1105.0,941.4 L1106.0,931.8 L1107.0,925.6 L1107.9,918.0 L1109.0,926.5 L1110.1,930.4 L1111.1,927.3 L1112.0,921.8 L1112.9,919.4 L1114.0,916.4 L1115.1,915.2 L1116.0,908.4 L1116.9,906.5 L1117.9,900.9 L1118.8,907.0 L1119.8,911.1 L1120.8,910.8 L1121.7,909.7 L1122.8,917.0 L1123.9,923.5 L1125.0,942.7 L1126.1,960.8 L1127.1,945.4 L1128.1,929.0 L1129.0,938.0 L1130.0,945.6 L1131.1,943.1 L1132.2,940.1 L1133.1,932.1 L1134.1,927.3 L1135.0,919.4 L1135.9,921.8 L1136.8,919.4 L1137.7,922.1 L1138.7,917.7 L1139.6,912.6 L1140.5,909.7 L1141.6,899.2 L1142.7,887.6 L1143.7,881.8 L1144.6,876.6 L1145.6,876.8 L1146.5,875.1 L1147.4,872.4 L1148.4,877.4 L1149.3,883.5 L1150.0,872.2 L1150.8,870.1 L1151.6,869.0 L1152.4,861.2 L1153.2,854.8 L1154.0,849.5 L1154.8,842.9 L1155.6,840.6 L1156.3,840.5 L1157.1,840.8 L1157.9,838.5 L1158.7,841.1 L1159.5,839.7 L1160.3,858.1 L1161.1,875.4 L1161.9,864.6 L1162.7,856.3 L1163.5,834.1 L1164.3,830.3 L1165.1,828.5 L1165.9,825.4 L1166.7,828.1 L1167.5,830.2 L1168.3,820.2 L1169.0,816.7 L1169.8,800.8 L1170.6,798.9 L1171.4,798.3 L1172.2,794.4 L1173.3,781.7 L1174.6,773.8 L1175.9,761.1 L1176.5,721.4 L1177.8,719.8 L1178.6,728.9 L1179.4,738.9 L1180.6,713.5 L1181.7,700.8 L1182.5,699.7 L1183.3,701.6 L1184.6,713.5 L1185.7,748.4 L1186.7,741.8 L1187.6,732.5 L1188.4,734.4 L1189.2,735.7 L1190.5,763.5 L1191.3,754.6 L1192.1,745.2 L1192.9,734.0 L1193.7,721.4 L1194.4,719.2 L1195.2,719.8 L1196.5,732.5 L1197.6,745.2 L1198.7,742.1 L1200.0,781.7 L1201.3,764.3 L1202.2,775.4 L1203.2,788.1 L1204.4,764.3 L1205.2,774.1 L1206.0,786.5 L1207.1,780.1 L1208.3,776.2 L1209.5,789.7 L1210.3,798.8 L1211.1,808.7 L1212.4,815.1 L1213.3,852.4 L1214.6,826.2 L1215.9,810.3 L1217.1,829.4 L1217.9,813.9 L1218.7,800.8 L1219.4,783.3 L1220.4,782.8 L1221.4,778.6 L1222.2,780.7 L1223.0,781.7 L1223.8,793.0 L1224.6,802.4 L1225.7,804.0 L1227.0,788.1 L1227.8,777.8 L1228.6,775.4 L1229.4,776.5 L1230.2,776.2 L1231.4,789.7 L1232.5,802.4 L1233.3,805.4 L1234.1,808.7 L1234.9,815.3 L1235.7,821.4 L1236.5,827.5 L1237.3,832.5 L1238.1,822.1 L1238.9,813.5 L1239.7,812.8 L1240.5,814.3 L1241.3,817.3 L1242.1,818.3 L1242.9,826.3 L1243.7,829.4 L1244.8,851.6 L1245.8,848.4 L1246.8,840.5 L1247.6,846.0 L1248.4,851.2 L1249.2,857.9 L1250.0,856.6 L1250.8,855.3 L1251.6,853.2 L1252.7,837.3 L1254.0,823.8 L1254.8,825.5 L1255.6,823.0 L1256.3,823.0 L1257.1,818.2 L1257.9,815.1 L1259.2,800.8 L1260.6,801.6 L1261.9,816.7 L1262.7,815.5 L1263.5,811.9 L1264.3,806.3 L1265.1,802.4 L1265.9,799.8 L1266.7,799.2 L1267.5,803.8 L1268.3,807.1 L1269.2,809.3 L1270.2,811.9 L1271.4,823.0 L1272.2,819.4 L1273.0,818.3 L1273.8,823.5 L1274.6,829.4 L1275.6,824.9 L1276.5,821.4 L1277.3,828.3 L1278.1,835.7 L1279.1,840.8 L1280.2,847.6 L1281.2,844.7 L1282.2,840.5 L1283.2,837.3 L1284.1,834.9 L1285.1,834.2 L1286.0,834.9 L1287.1,837.3 L1288.1,837.3 L1288.9,845.0 L1289.7,854.8 L1290.5,860.4 L1291.3,864.3 L1292.1,860.2 L1292.9,854.8 L1293.7,854.4 L1294.4,854.8 L1295.5,862.9 L1296.5,870.6 L1297.5,862.6 L1298.4,857.9 L1299.7,875.4 L1301.1,859.3 L1302.0,859.2 L1302.9,858.4 L1304.4,863.8 L1305.8,852.2 L1306.7,857.7 L1307.6,865.6 L1308.5,865.6 L1309.4,867.4 L1310.6,862.9 L1311.5,842.3 L1312.4,840.3 L1313.3,837.8 L1314.8,822.6 L1315.7,827.1 L1316.6,833.3 L1317.8,826.1 L1318.7,826.7 L1319.6,827.0 L1320.9,838.7 L1322.3,847.7 L1323.7,854.9 L1324.6,862.0 L1325.5,868.3 L1326.6,869.0 L1327.7,867.4 L1328.8,863.8 L1329.8,859.3 L1330.6,862.6 L1331.4,862.7 L1332.2,865.6 L1333.1,863.4 L1334.0,862.0 L1334.9,855.6 L1335.8,847.7 L1336.7,849.9 L1337.6,849.5 L1338.5,847.3 L1339.4,844.1 L1340.3,842.4 L1341.1,841.9 L1342.4,865.6 L1343.8,867.4 L1344.9,862.2 L1346.0,859.3 L1346.9,861.4 L1347.8,865.6 L1348.6,865.7 L1349.3,862.1 L1350.1,862.0 L1351.4,854.9 L1352.2,857.6 L1352.9,861.5 L1353.7,863.8 L1354.6,860.7 L1355.5,856.7 L1356.3,857.1 L1357.1,861.3 L1357.8,860.2 L1358.7,859.2 L1359.5,858.2 L1360.4,856.7 L1361.1,860.5 L1361.9,862.3 L1362.7,865.6 L1363.9,867.4 L1364.8,863.3 L1365.7,857.6 L1366.5,859.5 L1367.3,860.7 L1368.1,863.8 L1368.8,861.3 L1369.6,861.3 L1370.4,859.3 L1371.5,859.9 L1372.6,860.2 L1373.5,862.3 L1374.4,864.7 L1375.2,863.9 L1376.1,863.9 L1377.0,863.8 L1378.1,862.5 L1379.2,859.3 L1380.0,861.5 L1380.8,860.9 L1381.5,862.0 L1382.4,862.8 L1383.3,862.9 L1383.7,876.4 L1385.1,880.0 L1386.0,901.5 L1386.9,917.7 L1388.3,919.5 L1389.1,935.6 L1390.5,921.3 L1391.9,939.2 L1393.2,920.4 L1394.5,923.1 L1395.9,932.0 L1397.3,953.6 L1398.6,942.8 L1399.8,955.4 L1400.7,956.9 L1401.6,962.5 L1402.5,960.8 L1403.4,961.6 L1404.9,941.0 L1405.8,924.9 L1406.7,925.0 L1407.6,926.6 L1408.4,942.8 L1409.5,942.2 L1410.6,943.7 L1411.5,943.1 L1412.4,941.0 L1413.8,928.4 L1414.7,925.2 L1415.6,926.6 L1416.7,928.1 L1417.8,928.4 L1419.2,948.2 L1420.3,948.0 L1421.4,946.4 L1422.3,945.7 L1423.2,940.1 L1424.1,942.7 L1425.0,946.4 L1425.9,946.0 L1426.8,944.6 L1427.7,949.8 L1428.5,951.8 L1429.4,951.9 L1430.3,950.0 L1431.2,948.0 L1432.1,948.2 L1433.1,949.9 L1434.1,951.1 L1435.0,954.5 L1436.3,943.7 L1437.2,943.3 L1438.1,942.8 L1439.0,945.4 L1439.9,946.4 L1440.8,946.1 L1441.7,942.8 L1442.5,933.8 L1443.4,930.9 L1444.3,926.6 L1445.8,924.9 L1447.0,937.4 L1447.9,936.6 L1448.8,933.8 L1449.9,938.1 L1451.0,940.1 L1452.4,932.0 L1453.3,932.5 L1454.2,934.7 L1455.1,933.2 L1456.0,930.2 L1456.9,932.7 L1457.8,932.9 L1458.7,930.5 L1459.6,928.4 L1460.5,927.4 L1461.4,928.4 L1462.3,930.9 L1463.2,932.9 L1464.1,930.9 L1465.0,928.4 L1465.9,928.3 L1466.8,926.6 L1467.7,901.5 L1469.1,896.1 L1470.0,891.0 L1470.9,889.9 L1472.0,889.0 L1473.1,889.0 L1474.0,895.2 L1474.9,897.0 L1475.8,898.0 L1476.6,896.1 L1477.5,892.4 L1478.4,889.0 L1479.3,885.5 L1480.2,882.7 L1481.1,887.8 L1482.0,893.4 L1482.9,891.9 L1483.8,892.5 L1484.7,889.4 L1485.6,887.2 L1486.5,879.1 L1487.4,876.8 L1488.3,874.6 L1489.6,865.6 L1490.6,844.1 L1491.9,829.7 L1492.8,826.6 L1493.7,826.1 L1495.0,826.1 L1496.4,845.0 L1497.3,840.9 L1498.2,836.9 L1499.1,826.1 L1500.3,817.2 L1501.8,816.3 L1502.7,817.9 L1503.6,819.0 L1505.0,836.9 L1506.1,835.5 L1507.2,836.9 L1508.2,836.4 L1509.3,836.9 L1510.2,831.6 L1511.1,829.7 L1512.5,811.8 L1513.4,809.1 L1514.3,808.7 L1515.2,808.2 L1516.5,793.8 L1517.6,762.4 L1518.8,759.7 L1519.7,760.4 L1520.6,760.6 L1521.5,774.9 L1522.4,790.3 L1523.3,788.5 L1524.2,786.7 L1525.5,766.0 L1526.2,766.0 L1527.0,765.6 L1527.8,764.2 L1528.7,770.4 L1529.6,779.5 L1530.5,792.6 L1531.4,806.4 L1532.6,805.5 L1533.7,786.7 L1534.6,786.9 L1535.5,790.3 L1536.4,794.4 L1537.3,802.8 L1538.6,807.3 L1539.5,806.2 L1540.4,802.8 L1541.3,796.0 L1542.2,787.6 L1543.1,775.9 L1544.1,775.3 L1545.2,771.9 L1546.1,774.8 L1547.0,775.9 L1548.4,798.3 L1549.3,797.3 L1550.2,797.4 L1551.7,784.9 L1552.6,786.0 L1553.5,786.7 L1554.7,797.4 L1555.6,794.1 L1556.5,792.0 L1557.4,800.3 L1558.3,805.5 L1559.2,800.7 L1560.1,801.0 L1561.4,788.5 L1562.1,789.5 L1562.9,789.0 L1563.7,790.3 L1564.6,794.2 L1565.5,796.5 L1566.4,796.1 L1567.3,792.9 L1568.2,792.5 L1569.1,795.0 L1570.0,793.8 L1570.9,795.3 L1571.8,792.7 L1572.7,794.7 L1573.9,811.8 L1575.0,828.8 L1576.1,828.6 L1577.2,824.4 L1578.2,823.0 L1579.3,824.4 L1580.2,826.0 L1581.1,830.6 L1582.0,826.3 L1582.9,819.9 L1584.3,820.8 L1585.4,824.0 L1586.5,828.8 L1587.4,827.3 L1588.3,825.2 L1589.2,827.4 L1590.1,829.7 L1591.5,840.5 L1592.9,819.0 L1593.7,805.5 L1595.1,804.6 L1596.2,805.7 L1597.3,809.1 L1598.1,810.0 L1599.0,807.3 L1599.8,810.4 L1600.6,810.4 L1601.4,811.8 L1602.3,815.8 L1603.2,816.3 L1604.1,815.8 L1605.0,815.4 L1605.9,819.3 L1606.8,822.6 L1607.7,827.6 L1608.6,833.3 L1610.0,847.7 L1610.6,849.8 L1611.8,846.0 L1612.9,835.4 L1614.0,833.9 L1615.2,840.0 L1615.9,840.8 L1616.7,844.5 L1617.5,840.7 L1618.2,837.7 L1619.0,837.0 L1619.7,838.4 L1620.5,841.2 L1621.3,843.0 L1622.0,844.7 L1622.8,846.0 L1624.0,858.2 L1625.1,858.2 L1626.1,846.0 L1626.9,842.0 L1627.6,839.2 L1628.6,841.7 L1629.6,841.5 L1630.6,841.5 L1631.6,840.7 L1632.3,845.4 L1633.1,846.0 L1633.9,847.9 L1634.6,850.6 L1635.7,841.5 L1636.4,827.8 L1637.2,826.6 L1638.0,826.3 L1639.2,830.8 L1640.2,817.2 L1641.0,815.2 L1641.8,814.9 L1642.7,814.4 L1643.7,813.4 L1644.5,815.1 L1645.2,817.2 L1646.0,819.9 L1646.8,822.5 L1647.7,825.6 L1648.6,824.8 L1649.8,806.5 L1650.6,806.3 L1651.3,804.3 L1652.1,804.0 L1652.8,805.0 L1653.8,808.5 L1654.7,811.1 L1655.4,805.5 L1656.2,800.5 L1656.9,797.1 L1657.7,794.4 L1658.6,793.4 L1659.5,792.9 L1660.5,793.3 L1661.5,793.6 L1662.5,795.5 L1663.5,795.9 L1664.2,798.6 L1665.0,799.0 L1665.7,799.0 L1666.5,799.0 L1667.6,814.1 L1668.3,815.9 L1669.1,819.5 L1669.8,820.2 L1670.6,821.0 L1671.4,815.8 L1672.1,811.1 L1672.9,810.8 L1673.6,811.1 L1674.7,817.2 L1675.6,829.3 L1676.7,832.4 L1677.4,856.7 L1677.1,903.0 L1678.2,899.2 L1679.0,894.8 L1679.7,893.1 L1680.5,873.4 L1681.2,867.3 L1682.0,862.6 L1682.8,858.2 L1683.5,854.3 L1684.3,854.4 L1685.3,876.4 L1686.1,866.8 L1686.9,854.4 L1687.6,865.4 L1688.4,874.9 L1689.6,859.7 L1690.8,846.0 L1691.6,845.0 L1692.3,842.2 L1693.2,841.6 L1694.1,843.0 L1694.9,846.3 L1695.7,849.1 L1696.4,854.7 L1697.2,857.4 L1698.4,858.2 L1699.5,843.7 L1700.2,848.4 L1701.0,853.6 L1701.7,852.1 L1702.5,852.9 L1703.2,847.0 L1704.0,841.5 L1704.8,835.2 L1705.5,833.9 L1706.3,817.2 L1707.0,816.3 L1707.8,813.4 L1708.7,812.7 L1709.6,811.1 L1710.5,799.0 L1711.3,797.1 L1712.1,798.2 L1713.1,820.2 L1713.9,811.9 L1714.6,802.0 L1715.7,814.1 L1716.5,808.9 L1717.2,801.2 L1718.0,802.3 L1718.7,802.0 L1720.0,811.1 L1720.7,814.9 L1721.5,817.2 L1722.2,818.5 L1723.0,816.4 L1724.2,806.5 L1725.3,795.2 L1726.0,795.4 L1726.8,795.2 L1727.5,801.3 L1728.3,804.3 L1729.1,802.2 L1729.8,800.5 L1730.6,799.0 L1731.3,799.0 L1732.4,808.8 L1733.4,806.6 L1734.4,805.0 L1735.1,805.4 L1735.9,808.1 L1736.7,806.6 L1737.4,804.3 L1738.2,802.7 L1738.9,802.8 L1739.7,806.6 L1740.4,809.6 L1741.2,811.5 L1742.0,812.6 L1743.0,813.3 L1743.9,810.3 L1744.9,813.1 L1745.8,811.9 L1746.5,809.4 L1747.3,808.1 L1748.0,807.1 L1748.8,806.5 L1749.7,808.3 L1750.6,810.3 L1751.6,810.0 L1752.6,811.1 L1753.6,813.5 L1754.6,811.9 L1755.5,812.5 L1756.4,810.3 L1757.2,807.4 L1757.9,805.0 L1759.1,799.0 L1759.7,783.8 L1760.9,781.5 L1762.2,774.7 L1763.2,773.9 L1764.3,784.5 L1765.0,780.4 L1765.8,779.2 L1767.0,773.1 L1767.8,775.1 L1768.5,778.5 L1769.3,775.5 L1770.1,772.4 L1770.8,772.9 L1771.6,768.4 L1772.3,768.6 L1773.1,772.5 L1773.9,773.1 L1774.6,772.3 L1775.4,774.7 L1776.1,777.7 L1776.9,780.0 L1777.9,777.6 L1778.9,777.7 L1779.6,775.7 L1780.4,774.7 L1781.1,770.9 L1781.9,772.4 L1782.5,786.8 L1783.4,795.9 L1784.3,797.3 L1785.2,797.4 L1786.2,796.3 L1787.1,795.2 L1787.8,792.5 L1788.6,792.1 L1789.8,785.3 L1790.7,781.8 L1791.6,783.0 L1792.4,783.3 L1793.1,783.8 L1793.9,789.8 L1794.7,795.9 L1795.4,792.0 L1796.2,791.4 L1796.9,789.6 L1797.7,786.8 L1798.7,787.8 L1799.7,789.1 L1800.7,788.6 L1801.6,790.6 L1802.6,789.3 L1803.5,789.8 L1804.2,786.0 L1805.0,787.6 L1805.7,780.7 L1806.5,780.0 L1807.3,777.7 L1808.2,780.3 L1809.2,780.7 L1810.0,780.1 L1810.8,780.0 L1811.8,761.0 L1812.6,758.5 L1813.3,758.7 L1814.1,754.8 L1814.8,753.4 L1815.6,752.3 L1816.4,751.9 L1817.1,752.4 L1817.9,754.9 L1818.6,754.5 L1819.4,753.4 L1820.2,750.2 L1820.9,748.8 L1821.7,735.2 L1822.4,735.0 L1823.2,732.9 L1824.4,730.6 L1825.2,730.4 L1825.9,727.6 L1827.0,731.4 L1828.1,713.5 L1828.8,709.8 L1829.6,707.4 L1830.4,705.5 L1831.1,702.1 L1831.9,704.4 L1833.1,711.9 L1833.9,716.1 L1834.6,720.3 L1835.5,710.8 L1836.4,700.6 L1837.2,700.8 L1838.0,704.3 L1838.7,704.4 L1839.5,704.1 L1840.2,704.1 L1841.0,705.9 L1841.8,709.0 L1842.5,710.9 L1843.3,712.7 L1844.0,706.2 L1844.8,704.4 L1845.6,681.6 L1846.5,676.6 L1847.4,673.2 L1848.4,674.5 L1849.3,678.5 L1850.1,676.0 L1850.9,674.0 L1851.3,658.0 L1852.2,654.8 L1853.1,651.2 L1853.9,646.1 L1854.7,642.1 L1855.9,630.0 L1856.9,616.3 L1857.7,606.6 L1858.5,596.5 L1859.2,596.4 L1860.0,594.3 L1860.7,598.8 L1861.5,604.1 L1862.6,622.4 L1863.8,601.1 L1864.5,599.3 L1865.3,600.3 L1866.5,619.3 L1867.1,635.3 L1868.3,610.2 L1869.1,613.7 L1869.8,619.3 L1871.1,637.5 L1871.8,633.1 L1872.6,626.9 L1873.3,627.3 L1874.1,623.9 L1875.2,607.2 L1875.9,602.4 L1876.7,598.1 L1877.4,600.0 L1878.2,601.1 L1878.7,577.6 L1879.6,574.4 L1880.5,573.0 L1881.2,571.2 L1882.0,570.7 L1883.2,560.1 L1884.0,555.8 L1884.7,549.5 L1885.6,546.5 L1886.5,544.6 L1887.8,555.6 L1888.8,570.7 L1889.6,575.8 L1890.3,580.6 L1891.1,574.3 L1891.9,567.7 L1892.6,567.4 L1893.4,564.7 L1894.1,567.2 L1894.9,569.2 L1896.0,555.6 L1897.2,543.4 L1898.4,535.8 L1899.1,538.0 L1899.9,540.4 L1900.7,545.0 L1901.4,550.2 L1902.2,545.8 L1902.9,542.6 L1903.7,548.7 L1904.5,552.5 L1905.5,560.9 L1906.3,559.0 L1907.0,552.5 L1907.8,545.4 L1908.6,541.9 L1909.6,542.2 L1910.5,540.4 L1911.4,540.8 L1912.4,543.4 L1913.1,545.7 L1913.9,549.5 L1914.6,544.6 L1915.4,540.4 L1916.6,530.5 L1917.5,529.6 L1918.4,529.7 L1919.2,532.0 L1920.0,535.1 L1920.7,541.6 L1921.5,549.5 L1922.2,556.7 L1923.0,560.1 L1923.7,562.7 L1924.5,568.5 L1925.7,557.1 L1926.8,546.4 L1927.5,544.6 L1928.3,544.2 L1929.1,549.7 L1929.8,557.1 L1930.6,551.9 L1931.3,546.4 L1932.1,542.7 L1932.9,541.9 L1933.8,543.8 L1934.8,545.7 L1935.9,555.6 L1937.0,566.2 L1938.2,582.9 L1939.4,594.3 L1940.0,610.2 L1941.2,618.6 L1942.4,599.6 L1943.2,609.6 L1943.9,619.3 L1944.7,613.1 L1945.5,602.6 L1946.2,611.7 L1947.0,619.3 L1947.7,610.1 L1948.5,601.1 L1949.6,608.7 L1950.6,624.6 L1951.4,619.8 L1952.1,614.8 L1953.4,601.1 L1954.1,600.1 L1954.9,595.0 L1955.8,596.0 L1956.7,597.3 L1957.9,613.2 L1959.1,633.0 L1960.0,623.9 L1960.9,616.3 L1961.7,623.6 L1962.5,632.2 L1963.2,622.3 L1964.0,613.2 L1964.7,617.2 L1965.5,619.3 L1966.3,615.9 L1967.0,614.8 L1967.9,619.4 L1968.8,625.4 L1969.8,623.1 L1970.8,620.8 L1971.6,619.0 L1972.3,619.3 L1973.1,623.8 L1973.9,626.9 L1974.6,628.7 L1975.4,631.5 L1976.4,641.3 L1977.6,633.0 L1978.4,625.2 L1979.2,616.3 L1979.9,610.8 L1980.7,604.1 L1981.4,599.7 L1982.2,592.0 L1983.0,593.1 L1983.7,590.5 L1984.5,596.3 L1985.2,604.1 L1986.0,597.4 L1986.8,593.5 L1988.0,582.9 L1988.7,578.6 L1989.5,576.8 L1990.3,574.7 L1991.0,571.5 L1991.8,577.8 L1992.5,582.9 L1993.3,582.1 L1994.0,581.4 L1995.1,570.7 L1995.9,568.4 L1996.6,566.2 L1997.6,572.4 L1998.6,575.3 L1999.5,572.5 L2000.4,567.7 L2001.3,571.7 L2002.2,575.3 L2003.2,569.1 L2004.2,561.6 L2005.0,558.4 L2005.7,558.6 L2006.8,570.7 L2007.6,577.7 L2008.3,582.1 L2009.1,583.2 L2009.8,579.8 L2010.6,575.4 L2011.4,570.7 L2012.3,569.9 L2013.3,570.0 L2014.1,584.6 L2014.8,596.5 L2015.6,588.4 L2016.4,581.4 L2017.1,587.9 L2017.9,594.3 L2018.6,593.8 L2019.4,592.0 L2020.2,586.5 L2020.9,581.4 L2021.7,571.5 L2022.4,560.1 L2023.5,551.0 L2024.3,548.1 L2025.0,549.5 L2026.2,554.0 L2027.0,547.6 L2027.8,546.4 L2028.5,548.4 L2029.3,548.7 L2030.0,535.1 L2030.8,531.5 L2031.6,526.7 L2032.3,526.2 L2033.1,525.2 L2033.8,530.1 L2034.6,535.8 L2035.3,539.3 L2036.1,542.6 L2036.9,540.1 L2037.6,536.6 L2038.6,533.0 L2039.6,532.0 L2040.5,534.6 L2041.4,536.6 L2042.6,535.1 L2043.7,521.4 L2044.7,522.0 L2045.7,524.4 L2046.4,532.4 L2047.2,535.8 L2048.0,532.4 L2048.7,528.2 L2049.8,546.4 L2050.5,543.3 L2051.3,539.6 L2052.0,545.3 L2052.8,548.7 L2053.6,546.7 L2054.3,542.6 L2055.4,555.6 L2056.6,543.4 L2057.5,546.0 L2058.4,546.4 L2059.6,568.5 L2060.4,565.8 L2061.2,564.7 L2061.9,569.0 L2062.7,573.0 L2063.4,569.8 L2064.2,564.7 L2065.0,570.6 L2065.7,576.0 L2066.5,576.4 L2067.2,575.9 L2068.0,576.8 L2069.0,575.5 L2070.0,573.8 L2070.7,570.0 L2071.5,563.1 L2072.4,562.2 L2073.3,563.9 L2074.1,568.5 L2074.8,576.0 L2075.7,573.6 L2076.6,573.8 L2077.4,573.6 L2078.2,576.8 L2079.1,586.2 L2080.0,592.8 L2080.9,594.2 L2081.8,591.6 L2082.6,588.4 L2083.4,584.0 L2084.3,588.3 L2085.2,592.4 L2086.4,585.6 L2087.2,588.6 L2087.9,588.6 L2089.0,600.7 L2089.4,618.2 L2090.2,613.7 L2091.0,606.8 L2091.7,603.9 L2092.5,606.0 L2093.2,607.9 L2094.0,609.8 L2094.9,612.1 L2095.8,609.1 L2096.6,609.4 L2097.3,610.6 L2098.1,596.2 L2099.2,585.6 L2100.1,583.6 L2101.1,583.3 L2101.9,583.7 L2102.6,585.6 L2103.7,581.0 L2104.5,584.2 L2105.2,584.0 L2106.1,597.7 L2107.2,609.8 L2108.0,609.4 L2108.7,609.8 L2109.5,608.8 L2110.2,606.8 L2111.3,591.6 L2112.5,582.5 L2113.3,585.3 L2114.0,585.6 L2115.2,606.8 L2116.0,598.7 L2116.8,590.1 L2117.5,598.5 L2118.3,606.8 L2119.2,605.7 L2120.1,606.8 L2121.3,600.7 L2122.4,590.1 L2123.1,590.3 L2123.9,593.1 L2124.7,595.1 L2125.4,594.7 L2126.2,589.5 L2126.9,587.1 L2127.7,581.8 L2128.5,574.2 L2129.2,574.8 L2130.0,572.6 L2131.0,576.2 L2131.9,576.4 L2132.9,575.9 L2133.8,575.7 L2134.5,578.9 L2135.3,584.0 L2136.0,592.5 L2136.8,600.7 L2137.6,601.8 L2138.3,600.0 L2139.1,597.9 L2139.8,594.7 L2140.6,593.7 L2141.4,591.6 L2142.3,593.8 L2143.2,596.2 L2143.9,596.1 L2144.7,593.9 L2145.9,605.3 L2146.8,599.4 L2147.7,597.7 L2148.5,601.0 L2149.3,606.8 L2150.0,604.3 L2150.8,598.5 L2152.0,599.2 L2152.8,611.4 L2153.5,625.0 L2154.3,637.2 L2155.0,645.5 L2155.9,645.7 L2156.9,644.8 L2158.1,632.6 L2158.8,636.8 L2159.6,639.5 L2160.8,646.3 L2161.6,640.4 L2162.3,638.7 L2163.1,640.8 L2163.8,644.8 L2164.6,645.4 L2165.4,647.0 L2166.1,643.5 L2166.9,640.2 L2167.9,629.6 L2168.9,632.4 L2169.9,632.6 L2170.7,631.6 L2171.4,631.9 L2172.2,633.1 L2172.9,634.1 L2173.7,637.9 L2174.5,643.2 L2175.5,655.4 L2175.1,681.2 L2176.3,688.8 L2177.0,700.9 L2177.8,703.4 L2178.6,706.3 L2179.6,697.9 L2180.8,690.3 L2181.8,688.8 L2182.7,686.5 L2183.4,688.5 L2184.2,689.6 L2185.4,697.9 L2186.2,702.4 L2186.9,704.7 L2187.7,697.7 L2188.4,693.4 L2189.6,686.5 L2190.4,686.2 L2191.2,684.2 L2191.9,688.5 L2192.7,691.8 L2193.7,704.0 L2194.8,694.9 L2195.7,684.2 L2196.8,674.4 L2197.5,674.3 L2198.3,675.9 L2199.1,684.5 L2199.8,690.3 L2200.9,675.1 L2202.1,689.6 L2202.9,680.1 L2203.6,672.1 L2204.5,673.2 L2205.4,675.1 L2206.4,678.8 L2207.4,681.2 L2208.2,680.9 L2208.9,677.4 L2209.7,674.3 L2210.4,672.1 L2211.2,671.8 L2212.0,668.3 L2213.0,669.1 L2213.9,669.1 L2214.7,671.3 L2215.5,675.1 L2216.1,691.8 L2217.1,693.0 L2218.0,692.6 L2218.8,690.0 L2219.6,687.3 L2220.6,696.4 L2221.8,700.9 L2222.6,700.2 L2223.4,700.9 L2224.1,698.1 L2224.9,695.6 L2225.6,702.7 L2226.4,707.0 L2227.2,706.6 L2227.9,705.5 L2228.7,689.6 L2229.7,685.1 L2230.6,681.2 L2231.7,697.9 L2232.8,704.0 L2234.0,696.4 L2234.7,703.7 L2235.5,709.3 L2236.3,705.9 L2237.0,705.5 L2237.8,706.6 L2238.5,706.3 L2239.3,706.2 L2240.1,703.2 L2240.8,701.6 L2241.6,702.5 L2242.8,697.9 L2243.5,695.2 L2244.3,694.9 L2245.1,697.0 L2245.8,700.9 L2246.6,703.0 L2247.3,705.5 L2248.3,703.9 L2249.2,704.0 L2250.1,705.1 L2251.0,706.3 L2252.0,704.8 L2253.0,705.5 L2253.7,705.4 L2254.5,704.7 L2255.2,703.5 L2256.0,700.9 L2256.8,691.8 L2257.5,692.7 L2258.3,692.6 L2259.2,692.4 L2260.1,693.4 L2260.9,692.4 L2261.6,689.6 L2262.4,687.1 L2263.1,688.0 L2263.9,689.2 L2264.7,691.8 L2265.6,710.1 L2265.9,731.3 L2266.6,729.7 L2267.4,728.3 L2268.6,717.6 L2269.4,721.3 L2270.1,722.2 L2271.2,729.8 L2271.9,730.9 L2272.7,732.8 L2273.5,728.9 L2274.2,723.7 L2275.0,728.5 L2275.7,729.8 L2276.5,731.2 L2277.3,728.3 L2278.0,725.6 L2278.8,719.2 L2279.8,719.8 L2280.8,722.2 L2281.7,721.7 L2282.6,720.7 L2283.5,722.0 L2284.4,722.2 L2285.6,716.1 L2286.5,715.7 L2287.4,713.9 L2288.6,723.7 L2289.4,726.2 L2290.2,727.5 L2291.1,724.7 L2292.0,722.2 L2293.0,721.9 L2294.0,721.4 L2294.7,721.5 L2295.5,725.3 L2296.2,726.0 L2297.0,726.1 L2297.8,724.9 L2298.5,725.2 L2299.3,726.4 L2300.0,723.7 L2300.8,723.0 L2301.6,720.5 L2302.3,720.1 L2303.1,717.6 L2304.1,707.0 L2305.0,691.1 L2305.8,690.8 L2306.6,689.6 L2307.3,692.2 L2308.1,693.4 L2309.1,678.9 L2310.1,677.7 L2311.1,676.7 L2312.0,678.3 L2312.9,678.2 L2313.7,675.7 L2314.5,672.9 L2315.4,674.6 L2316.3,673.6 L2317.3,675.5 L2318.3,676.7 L2319.0,675.0 L2319.8,675.1 L2320.5,680.1 L2321.3,687.3 L2322.3,687.2 L2323.3,685.8 L2324.0,679.2 L2324.8,670.6 L2325.5,668.3 L2326.3,669.1 L2327.1,668.2 L2327.8,666.0 L2328.7,668.2 L2329.6,670.6 L2330.4,673.9 L2331.2,676.7 L2331.9,674.3 L2332.7,673.6 L2333.6,672.8 L2334.5,674.4 L2335.7,682.7 L2336.9,679.7 L2338.0,694.9 L2338.8,695.4 L2339.5,697.2 L2340.6,676.7 L2341.8,664.5 L2343.0,652.4 L2343.0,651.6 L2343.8,649.7 L2344.6,649.1 L2345.3,648.5 L2346.1,648.4 L2346.8,648.1 L2347.6,647.8 L2348.5,653.3 L2349.4,654.6 L2350.4,649.8 L2351.4,647.0 L2352.1,646.6 L2352.9,647.1 L2353.7,647.0 L2354.4,649.6 L2355.2,650.8 L2356.1,649.3 L2357.0,650.1 L2357.9,639.4 L2358.7,636.7 L2359.4,637.2 L2360.3,637.1 L2361.3,636.4 L2362.0,637.6 L2362.8,637.9 L2364.0,653.9 L2364.9,648.8 L2365.8,642.5 L2366.6,648.1 L2367.3,652.3 L2368.2,645.4 L2369.2,641.7 L2370.1,647.0 L2371.1,650.1 L2372.1,645.4 L2373.1,640.9 L2373.9,644.7 L2374.6,644.0 L2375.4,648.9 L2376.1,654.6 L2377.0,653.4 L2378.0,656.9 L2378.9,654.5 L2379.8,652.3 L2380.8,654.5 L2381.8,656.1 L2382.5,655.0 L2383.3,653.1 L2384.0,656.4 L2384.8,659.2 L2385.6,655.6 L2386.3,653.1 L2387.4,647.8 L2388.4,647.9 L2389.3,651.6 L2390.1,656.3 L2390.9,661.4 L2391.6,656.9 L2392.4,653.1 L2393.1,653.2 L2393.9,654.6 L2394.7,657.0 L2395.4,659.2 L2396.2,662.3 L2396.9,666.0 L2397.7,661.9 L2398.5,662.2 L2399.5,659.2 L2400.7,656.9 L2401.0,639.4 L2401.8,636.6 L2402.6,635.6 L2403.5,634.7 L2404.5,635.6 L2405.3,635.1 L2406.0,636.9 L2406.8,634.9 L2407.7,634.1 L2408.6,633.4 L2409.4,637.0 L2410.1,639.4 L2411.1,636.4 L2412.1,637.9 L2413.1,636.2 L2414.1,631.8 L2414.9,632.8 L2415.6,634.9 L2416.7,637.9 L2417.4,638.7 L2418.2,637.3 L2419.0,638.7 L2419.7,639.4 L2420.5,641.1 L2421.2,640.9 L2422.0,642.4 L2422.8,644.0 L2423.5,643.5 L2424.3,641.7 L2425.0,641.7 L2425.8,641.5 L2426.5,643.0 L2427.3,643.2 L2428.1,643.4 L2428.8,644.0 L2429.8,641.9 L2430.8,639.4 L2431.9,639.5 L2432.9,640.9 L2433.9,641.3 L2434.9,642.5 L2435.7,654.6 L2436.4,659.9 L2437.2,660.7 L2437.9,661.5 L2438.7,659.9 L2439.6,659.9 L2440.5,660.7 L2441.3,657.7 L2442.0,656.1 L2443.2,650.1 L2444.0,652.5 L2444.8,654.6 L2446.0,661.4 L2447.0,661.3 L2448.1,659.2 L2449.1,661.0 L2450.1,662.2 L2450.8,665.3 L2451.6,666.0 L2452.4,662.4 L2453.1,659.2 L2453.9,655.9 L2454.6,654.6 L2455.4,651.8 L2456.2,653.1 L2457.1,655.5 L2458.1,656.1 L2459.2,658.3 L2460.3,659.9 L2461.5,654.6 L2462.7,649.3 L2463.6,649.4 L2464.5,650.8 L2465.3,650.1 L2466.0,648.5 L2466.9,648.1 L2467.8,650.1 L2468.6,654.2 L2469.4,656.1 L2470.4,657.6 L2471.3,656.9 L2472.1,656.3 L2472.9,653.1 L2473.9,647.0 L2474.8,640.9 L2475.9,628.8 L2476.3,619.7 L2477.3,618.5 L2478.2,618.2 L2478.9,621.6 L2479.7,622.0 L2480.4,619.4 L2481.2,615.1 L2482.1,618.4 L2483.0,618.2 L2484.0,615.6 L2485.0,616.7 L2486.1,607.5 L2486.8,607.8 L2487.6,606.0 L2488.8,611.3 L2489.6,609.7 L2490.3,605.3 L2491.1,609.9 L2491.8,615.1 L2492.7,613.5 L2493.7,609.8 L2494.9,612.9 L2495.6,609.6 L2496.4,606.0 L2497.3,608.7 L2498.2,608.3 L2499.2,607.3 L2500.2,606.8 L2500.9,595.4 L2501.7,584.8 L2502.5,583.7 L2503.2,582.5 L2504.0,581.6 L2504.7,583.2 L2505.5,591.2 L2506.3,594.6 L2507.0,589.6 L2507.8,586.3 L2508.5,588.6 L2509.3,593.1 L2510.1,591.8 L2510.8,592.4 L2511.6,588.7 L2512.3,584.8 L2513.1,584.5 L2513.9,584.0 L2514.6,587.2 L2515.4,589.3 L2516.4,592.2 L2517.3,591.6 L2518.3,591.5 L2519.2,589.3 L2520.4,581.0 L2521.1,582.1 L2521.9,586.3 L2523.0,574.9 L2523.7,574.7 L2524.5,574.1 L2525.2,575.5 L2526.0,577.2 L2527.1,587.0 L2528.1,588.6 L2529.0,588.6 L2529.8,592.1 L2530.6,595.4 L2531.3,599.5 L2532.1,600.7 L2532.8,599.0 L2533.6,596.9 L2534.4,594.5 L2535.1,587.8 L2536.1,586.0 L2537.1,586.3 L2538.0,588.7 L2538.9,588.6 L2539.8,589.2 L2540.7,587.8 L2541.9,572.6 L2542.7,569.2 L2543.5,567.3 L2544.2,562.5 L2545.0,560.5 L2545.7,559.0 L2546.5,559.0 L2547.4,559.4 L2548.3,559.0 L2549.1,561.9 L2549.8,561.2 L2550.8,560.8 L2551.8,563.5 L2552.6,560.9 L2553.3,559.0 L2553.8,540.7 L2554.4,533.1 L2555.4,532.6 L2556.4,534.7 L2557.4,521.0 L2558.2,521.5 L2558.9,520.2 L2560.2,512.6 L2561.1,511.7 L2562.0,510.4 L2562.7,511.6 L2563.5,512.6 L2564.7,524.0 L2565.9,528.6 L2567.0,534.7 L2567.8,531.7 L2568.5,527.1 L2569.3,522.9 L2570.0,518.0 L2570.8,518.4 L2571.6,515.7 L2572.3,514.3 L2573.1,513.4 L2573.8,515.8 L2574.6,519.5 L2575.3,527.1 L2576.6,517.2 L2577.6,514.2 L2578.4,513.8 L2579.1,513.4 L2579.9,515.3 L2580.7,517.2 L2581.7,527.1 L2582.9,531.6 L2584.2,536.2 L2584.9,532.3 L2585.7,525.6 L2586.4,524.4 L2587.2,524.0 L2588.0,525.8 L2588.7,528.6 L2589.8,533.1 L2590.5,536.2 L2591.3,540.7 L2592.4,543.8 L2593.1,538.4 L2593.9,534.7 L2594.6,529.9 L2595.4,529.3 L2596.1,533.7 L2596.9,537.7 L2597.9,537.9 L2598.9,536.9 L2599.6,536.0 L2600.4,534.7 L2601.5,525.6 L2602.7,522.5 L2603.9,513.4 L2604.7,515.6 L2605.4,519.5 L2606.3,520.1 L2607.2,518.7 L2608.1,521.0 L2609.1,521.8 L2610.0,522.4 L2611.0,522.5 L2611.8,521.7 L2612.5,519.5 L2613.3,514.2 L2614.2,515.6 L2615.1,517.2 L2616.1,519.6 L2617.1,521.0 L2617.9,523.1 L2618.6,524.0 L2620.0,527.1 L2620.5,526.8 L2621.5,527.0 L2622.5,529.8 L2623.2,534.2 L2624.0,539.7 L2624.9,537.4 L2625.8,536.7 L2626.6,538.2 L2627.3,538.9 L2628.1,532.7 L2628.8,532.1 L2629.6,533.9 L2630.4,535.1 L2631.1,545.8 L2632.1,548.0 L2633.1,550.3 L2634.0,549.0 L2634.9,548.0 L2635.7,546.6 L2636.4,544.2 L2637.2,529.1 L2638.0,526.0 L2638.7,526.0 L2639.5,524.0 L2640.2,521.5 L2641.2,520.7 L2642.2,521.5 L2643.1,523.5 L2644.0,526.8 L2644.8,525.2 L2645.6,520.7 L2646.3,520.7 L2647.1,521.5 L2647.8,526.4 L2648.6,529.1 L2649.3,545.8 L2650.1,554.9 L2651.0,554.1 L2651.9,553.4 L2652.8,535.1 L2653.6,535.6 L2654.4,536.7 L2655.4,545.8 L2656.4,545.0 L2657.4,545.0 L2658.3,541.6 L2659.2,541.2 L2660.4,538.9 L2661.0,529.8 L2662.0,529.1 L2663.0,529.1 L2664.1,538.2 L2665.3,542.7 L2666.0,544.4 L2666.8,545.8 L2667.6,545.0 L2668.3,541.2 L2669.1,554.9 L2670.1,555.7 L2671.1,554.9 L2671.8,552.7 L2672.6,548.8 L2673.6,538.2 L2674.4,536.4 L2675.2,536.7 L2675.9,540.0 L2676.7,545.0 L2677.7,532.1 L2678.7,531.4 L2679.7,529.8 L2680.5,528.9 L2681.2,526.8 L2682.0,524.9 L2682.8,525.3 L2683.5,526.8 L2684.3,526.0 L2685.3,536.7 L2686.1,536.7 L2686.9,538.2 L2687.8,536.2 L2688.8,533.6 L2689.8,535.8 L2690.8,538.9 L2691.6,537.1 L2692.3,533.6 L2692.9,524.5 L2693.7,523.2 L2694.4,520.0 L2695.4,520.3 L2696.4,518.4 L2697.2,518.2 L2697.9,520.0 L2698.7,522.8 L2699.5,525.3 L2700.2,525.0 L2701.0,520.0 L2702.0,510.8 L2702.8,513.1 L2703.6,515.4 L2704.3,519.0 L2705.1,521.5 L2705.8,522.0 L2706.6,522.2 L2707.5,504.8 L2708.6,503.5 L2709.6,503.2 L2710.1,483.5 L2711.1,483.1 L2712.1,479.0 L2712.8,480.7 L2713.6,479.0 L2714.6,469.8 L2715.4,467.2 L2716.2,466.0 L2716.9,467.8 L2717.7,468.3 L2718.4,475.3 L2719.2,478.2 L2720.0,475.3 L2720.7,471.4 L2721.7,470.3 L2722.7,469.1 L2723.6,469.0 L2724.5,466.8 L2725.3,465.8 L2726.0,463.0 L2726.9,463.6 L2727.8,466.8 L2729.1,471.4 L2730.3,457.7 L2731.0,455.7 L2731.8,455.4 L2732.6,459.8 L2733.3,460.7 L2733.9,469.8 L2734.7,471.5 L2735.4,474.4 L2736.7,466.0 L2737.4,469.4 L2738.2,472.9 L2739.4,477.4 L2740.1,473.3 L2740.9,470.6 L2741.8,469.7 L2742.7,464.5 L2743.9,462.3 L2744.7,468.5 L2745.5,477.4 L2746.4,475.4 L2747.3,472.9 L2748.2,471.7 L2749.1,471.4 L2750.3,460.7 L2751.1,458.2 L2751.8,456.2 L2752.6,454.5 L2753.4,455.4 L2754.3,457.2 L2755.2,460.7 L2756.2,460.2 L2757.2,460.0 L2757.9,459.1 L2758.7,457.7 L2759.4,458.0 L2760.2,462.3 L2760.9,468.3 L2761.7,470.0 L2762.5,471.4 L2763.4,469.7 L2764.3,469.8 L2765.3,470.9 L2766.3,472.1 L2767.0,469.8 L2767.8,468.3 L2768.8,469.0 L2769.8,469.8 L2770.7,468.1 L2771.6,466.8 L2772.3,469.6 L2773.1,471.4 L2773.9,491.1 L2774.8,490.7 L2775.8,490.3 L2776.9,474.4 L2777.6,472.6 L2778.4,474.4 L2779.5,482.0 L2780.7,497.2 L2781.4,496.5 L2782.2,501.0 L2783.0,496.0 L2783.7,494.1 L2784.6,492.6 L2785.5,490.3 L2786.3,486.3 L2787.1,485.8 L2788.1,486.6 L2789.0,489.6 L2790.0,488.5 L2791.0,483.5 L2791.8,483.9 L2792.5,485.0 L2793.6,493.4 L2794.4,491.3 L2795.1,489.6 L2796.1,491.1 L2797.1,491.9 L2798.1,498.7 L2799.2,505.5 L2800.4,500.2 L2801.6,488.8 L2802.6,490.7 L2803.5,491.1 L2804.4,490.5 L2805.3,491.1 L2806.3,490.1 L2807.3,488.8 L2808.0,475.2 L2808.9,471.8 L2809.8,472.9 L2810.8,472.9 L2811.8,472.1 L2812.6,471.6 L2813.3,469.8 L2814.1,470.2 L2814.8,474.4 L2815.6,474.3 L2816.4,472.1 L2817.4,460.7 L2818.2,461.3 L2818.9,457.7 L2819.9,456.1 L2820.9,460.0 L2821.7,460.1 L2822.4,460.7 L2823.2,461.9 L2824.0,460.0 L2825.0,450.1 L2825.8,450.1 L2826.5,448.6 L2827.3,450.1 L2828.1,453.1 L2828.8,452.9 L2829.6,453.9 L2830.3,456.2 L2831.1,459.2 L2832.1,461.1 L2833.1,461.5 L2833.8,461.7 L2834.6,463.8 L2835.7,451.6 L2836.6,449.3 L2837.6,450.1 L2838.4,452.1 L2839.1,453.9 L2839.9,454.6 L2840.7,456.9 L2841.6,459.5 L2842.6,458.5 L2843.4,458.8 L2844.2,461.5 L2844.9,463.3 L2845.7,464.5 L2846.7,457.7 L2847.7,456.3 L2848.7,455.4 L2849.5,454.6 L2850.2,456.9 L2851.0,454.9 L2851.7,453.9 L2852.5,451.0 L2853.3,452.4 L2854.2,452.4 L2855.1,451.6 L2855.8,443.3 L2856.6,440.7 L2857.4,440.2 L2858.1,439.3 L2858.9,441.0" fill="none" stroke="#000" stroke-width="5.0" stroke-linejoin="round" stroke-linecap="butt"/>
<rect x="341" y="618.7" width="2518" height="169.1" fill="rgb(225,25,25)" fill-opacity="0.1"/>
<rect x="341" y="1379.8" width="2518" height="42.3" fill="rgb(5,155,95)" fill-opacity="0.1"/>
<text x="2668.97 2718.15 2741.44 2787.91 2824.01 2860.54 2909.30 2959.13 3009.64" y="1732.8" font-size="79" transform="scale(1.02 1)" style="font-family:'DejaVu Sans',sans-serif;fill:#dadada;stroke:#dadada;stroke-width:0.8">glassnode</text>
</svg>
<div id="foot">© 2025 Glassnode. All Rights Reserved.</div>
</body></html>
